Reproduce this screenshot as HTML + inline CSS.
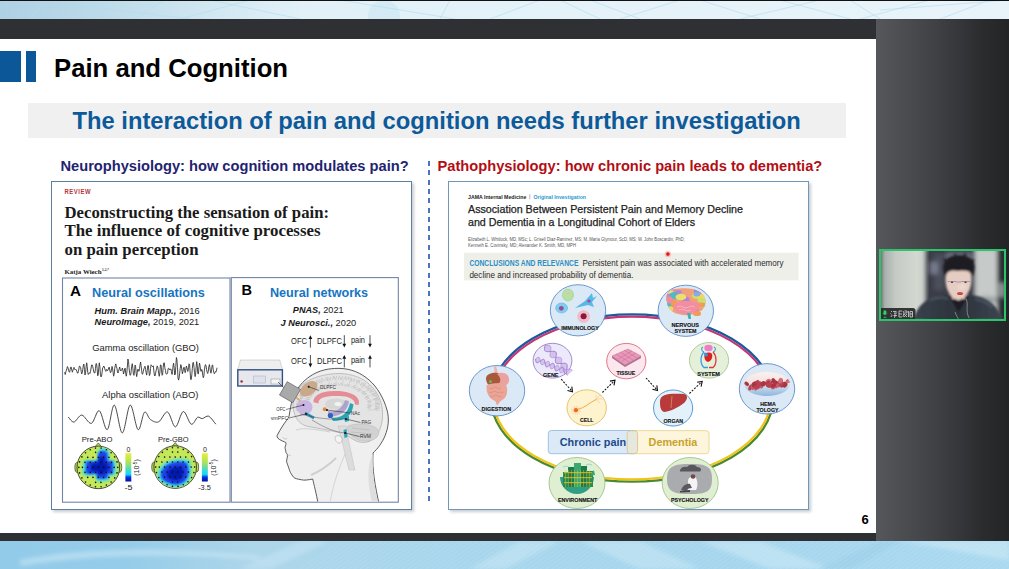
<!DOCTYPE html>
<html><head><meta charset="utf-8">
<style>
*{margin:0;padding:0;box-sizing:border-box}
html,body{width:1009px;height:569px;overflow:hidden;background:#fff;font-family:"Liberation Sans",sans-serif}
.a{position:absolute}
.nw{white-space:nowrap}
svg text{white-space:pre}
</style></head>
<body>
<div class="a" style="left:0;top:0;width:1009px;height:569px;">
<svg class="a" style="left:0;top:0" width="1009" height="19" viewBox="0 0 1009 19">
<defs><linearGradient id="tg" x1="0" x2="1"><stop offset="0" stop-color="#afd1e4"/><stop offset="0.08" stop-color="#b8d8e8"/><stop offset="0.2" stop-color="#cfe6f1"/><stop offset="0.3" stop-color="#e2f1f8"/><stop offset="1" stop-color="#e8f4fa"/></linearGradient></defs>
<rect width="1009" height="19" fill="url(#tg)"/>
<circle cx="384" cy="16" r="16" fill="#d0e8f3" opacity="0.8"/>
<g stroke="#b5dcee" stroke-width="0.7" fill="none" opacity="0.9">
<path d="M30,19 L45,0 M90,19 L100,0 M135,19 L165,0 M100,8 L190,19 M210,0 L300,19 M180,19 L250,0 M340,0 L455,19 M450,0 L440,19 M490,19 L540,0 M560,0 L600,19 M590,0 L640,19 M620,19 L680,0 M700,0 L760,19 M740,19 L820,0 M780,0 L850,19 M850,0 L880,19 M860,19 L930,0 M880,10 L1009,0 M940,19 L990,0"/>
</g>
</svg>
<div class="a" style="left:0;top:0;width:1009px;height:1px;background:#111"></div>
<div class="a" style="left:0;top:19px;width:876px;height:19.5px;background:#2f3034"></div>
<div class="a" style="left:876px;top:19px;width:133px;height:522px;background:linear-gradient(90deg,#56575b 0%,#404145 45%,#2b2c2e 80%,#232426 100%)"></div>
<div class="a" style="left:0;top:38.5px;width:876px;height:494.5px;background:#fff"></div>
<div class="a" style="left:0;top:533px;width:876px;height:8px;background:#2f3034"></div>
<svg class="a" style="left:0;top:541px" width="1009" height="28" viewBox="0 541 1009 28">
<defs><linearGradient id="bg2" x1="0" x2="1"><stop offset="0" stop-color="#92cbe9"/><stop offset="0.12" stop-color="#94cce9"/><stop offset="0.25" stop-color="#aed6ea"/><stop offset="0.45" stop-color="#a8d6ec"/><stop offset="0.75" stop-color="#a6d6ee"/><stop offset="1" stop-color="#aad9ef"/></linearGradient>
<filter id="bb" x="-10%" y="-50%" width="120%" height="200%"><feGaussianBlur stdDeviation="2"/></filter></defs>
<rect x="0" y="541" width="1009" height="28" fill="url(#bg2)"/>
<g filter="url(#bb)" opacity="0.55">
<path d="M20,560 C80,548 160,546 260,556 L260,560 C160,552 80,556 20,566Z" fill="#cfeaf6"/>
<path d="M240,569 L300,541 L330,541 L270,569Z" fill="#c6e6f4"/>
<path d="M470,569 L520,541 L560,541 L505,569Z" fill="#c8e7f5"/>
<path d="M580,541 L640,541 L700,569 L640,569Z" fill="#c9e8f5"/>
<path d="M700,541 L760,541 L830,569 L770,569Z" fill="#cdeaf6"/>
<path d="M900,541 L1009,541 L1009,560Z" fill="#d0ebf6"/>
<path d="M820,569 L880,541 L900,541 L850,569Z" fill="#9acde8"/>
</g>
<g stroke="#ffffff" stroke-width="0.5" opacity="0.18"><path d="M300,569 L340,541"/><path d="M306,569 L346,541"/><path d="M312,569 L352,541"/><path d="M318,569 L358,541"/><path d="M324,569 L364,541"/><path d="M330,569 L370,541"/><path d="M336,569 L376,541"/><path d="M342,569 L382,541"/><path d="M348,569 L388,541"/><path d="M354,569 L394,541"/><path d="M360,569 L400,541"/><path d="M366,569 L406,541"/><path d="M372,569 L412,541"/><path d="M378,569 L418,541"/><path d="M384,569 L424,541"/><path d="M390,569 L430,541"/><path d="M396,569 L436,541"/><path d="M402,569 L442,541"/><path d="M408,569 L448,541"/><path d="M414,569 L454,541"/><path d="M420,569 L460,541"/><path d="M426,569 L466,541"/><path d="M432,569 L472,541"/><path d="M438,569 L478,541"/><path d="M444,569 L484,541"/><path d="M450,569 L490,541"/><path d="M456,569 L496,541"/><path d="M462,569 L502,541"/><path d="M468,569 L508,541"/><path d="M474,569 L514,541"/><path d="M480,569 L520,541"/><path d="M486,569 L526,541"/><path d="M492,569 L532,541"/><path d="M498,569 L538,541"/><path d="M504,569 L544,541"/><path d="M510,569 L550,541"/><path d="M516,569 L556,541"/><path d="M522,569 L562,541"/><path d="M528,569 L568,541"/><path d="M534,569 L574,541"/><path d="M540,569 L580,541"/><path d="M546,569 L586,541"/><path d="M552,569 L592,541"/><path d="M558,569 L598,541"/><path d="M564,569 L604,541"/><path d="M570,569 L610,541"/><path d="M576,569 L616,541"/><path d="M582,569 L622,541"/><path d="M588,569 L628,541"/><path d="M594,569 L634,541"/><path d="M600,569 L640,541"/><path d="M606,569 L646,541"/><path d="M612,569 L652,541"/><path d="M618,569 L658,541"/><path d="M624,569 L664,541"/><path d="M630,569 L670,541"/><path d="M636,569 L676,541"/><path d="M642,569 L682,541"/><path d="M648,569 L688,541"/><path d="M654,569 L694,541"/><path d="M660,569 L700,541"/><path d="M666,569 L706,541"/><path d="M672,569 L712,541"/><path d="M678,569 L718,541"/><path d="M684,569 L724,541"/><path d="M690,569 L730,541"/><path d="M696,569 L736,541"/><path d="M702,569 L742,541"/><path d="M708,569 L748,541"/><path d="M714,569 L754,541"/><path d="M720,569 L760,541"/><path d="M726,569 L766,541"/><path d="M732,569 L772,541"/><path d="M738,569 L778,541"/><path d="M744,569 L784,541"/><path d="M750,569 L790,541"/><path d="M756,569 L796,541"/><path d="M762,569 L802,541"/><path d="M768,569 L808,541"/><path d="M774,569 L814,541"/><path d="M780,569 L820,541"/><path d="M786,569 L826,541"/><path d="M792,569 L832,541"/><path d="M798,569 L838,541"/><path d="M804,569 L844,541"/><path d="M810,569 L850,541"/><path d="M816,569 L856,541"/><path d="M822,569 L862,541"/><path d="M828,569 L868,541"/><path d="M834,569 L874,541"/><path d="M840,569 L880,541"/><path d="M846,569 L886,541"/><path d="M852,569 L892,541"/><path d="M858,569 L898,541"/><path d="M864,569 L904,541"/><path d="M870,569 L910,541"/><path d="M876,569 L916,541"/><path d="M882,569 L922,541"/><path d="M888,569 L928,541"/><path d="M894,569 L934,541"/><path d="M900,569 L940,541"/><path d="M906,569 L946,541"/><path d="M912,569 L952,541"/><path d="M918,569 L958,541"/><path d="M924,569 L964,541"/><path d="M930,569 L970,541"/><path d="M936,569 L976,541"/><path d="M942,569 L982,541"/><path d="M948,569 L988,541"/><path d="M954,569 L994,541"/><path d="M960,569 L1000,541"/><path d="M966,569 L1006,541"/><path d="M972,569 L1012,541"/><path d="M978,569 L1018,541"/><path d="M984,569 L1024,541"/><path d="M990,569 L1030,541"/><path d="M996,569 L1036,541"/><path d="M1002,569 L1042,541"/><path d="M1008,569 L1048,541"/></g>
</svg>
<div class="a" style="left:0;top:51px;width:20.7px;height:30.7px;background:#0b5797"></div>
<div class="a" style="left:26.2px;top:51px;width:9.8px;height:30.7px;background:#0b5797"></div>
<div class="a nw" style="left:54px;top:51px;font-size:25.7px;font-weight:bold;color:#000;line-height:34px">Pain and Cognition</div>
<div class="a" style="left:27.6px;top:103px;width:818.5px;height:35px;background:#f0f0f0"></div>
<div class="a nw" style="left:72.5px;top:106.4px;font-size:23.75px;font-weight:bold;color:#0d5a9a;line-height:30px">The interaction of pain and cognition needs further investigation</div>
<div class="a nw" style="left:60.5px;top:157px;font-size:14.65px;font-weight:bold;color:#1f2471;line-height:18px">Neurophysiology: how cognition modulates pain?</div>
<div class="a nw" style="left:437.5px;top:157px;font-size:14.68px;font-weight:bold;color:#b30d14;line-height:18px">Pathophysiology: how chronic pain leads to dementia?</div>
<div class="a" style="left:428px;top:161px;width:2px;height:341px;background:repeating-linear-gradient(180deg,#4a76c0 0,#4a76c0 5px,transparent 5px,transparent 9.3px)"></div>
<div class="a nw" style="left:861.5px;top:513px;font-size:13px;font-weight:bold;color:#000;line-height:14px">6</div>
<svg class="a" style="left:0;top:0" width="1009" height="569" viewBox="0 0 1009 569">
<defs>
<filter id="blur2" x="-5%" y="-5%" width="110%" height="110%"><feGaussianBlur stdDeviation="1.5"/></filter>
<filter id="blur1"><feGaussianBlur stdDeviation="0.8"/></filter>
<filter id="blur3" x="-20%" y="-20%" width="140%" height="140%"><feGaussianBlur stdDeviation="2.5"/></filter>
<linearGradient id="cbar" x1="0" y1="0" x2="0" y2="1">
<stop offset="0" stop-color="#e8f03a"/><stop offset="0.35" stop-color="#a8e060"/><stop offset="0.6" stop-color="#40d8d0"/><stop offset="0.75" stop-color="#10d8f8"/><stop offset="0.85" stop-color="#0830e8"/><stop offset="1" stop-color="#0010a0"/>
</linearGradient>
</defs>
<rect x="53" y="183" width="361" height="329" fill="#c9ccd2" filter="url(#blur2)"/>
<rect x="51.5" y="181.5" width="360" height="328" fill="#fff" stroke="#5b7f9c" stroke-width="1"/>
<text x="64.5" y="193.8" font-family="Liberation Sans" font-size="6.4" font-weight="bold" font-style="normal" fill="#b5353a" text-anchor="start" textLength="26.5" lengthAdjust="spacingAndGlyphs" letter-spacing="0.6">REVIEW</text>
<text x="64.5" y="217.8" font-family="Liberation Serif" font-size="17.5" font-weight="bold" font-style="normal" fill="#1a1a1a" text-anchor="start" textLength="264.5" lengthAdjust="spacingAndGlyphs" >Deconstructing the sensation of pain:</text>
<text x="64.5" y="236.2" font-family="Liberation Serif" font-size="17.5" font-weight="bold" font-style="normal" fill="#1a1a1a" text-anchor="start" textLength="256" lengthAdjust="spacingAndGlyphs" >The influence of cognitive processes</text>
<text x="64.5" y="254.6" font-family="Liberation Serif" font-size="17.5" font-weight="bold" font-style="normal" fill="#1a1a1a" text-anchor="start" textLength="134" lengthAdjust="spacingAndGlyphs" >on pain perception</text>
<text x="64.5" y="274.2" font-family="Liberation Serif" font-size="6.2" font-weight="bold" font-style="normal" fill="#222" text-anchor="start" textLength="37" lengthAdjust="spacingAndGlyphs" >Katja Wiech</text>
<text x="102" y="271" font-family="Liberation Serif" font-size="3.5" font-weight="bold" font-style="normal" fill="#333" text-anchor="start" >1,2,*</text>
<rect x="62.5" y="278" width="167.5" height="224.2" fill="#fff" stroke="#7584a6" stroke-width="1.1"/>
<rect x="231.3" y="277.6" width="167" height="224.6" fill="#fff" stroke="#7584a6" stroke-width="1.1"/>
<text x="70" y="296" font-family="Liberation Sans" font-size="15" font-weight="bold" font-style="normal" fill="#000" text-anchor="start" textLength="11" lengthAdjust="spacingAndGlyphs" >A</text>
<text x="92" y="296.7" font-family="Liberation Sans" font-size="12.6" font-weight="bold" font-style="normal" fill="#1575c2" text-anchor="start" textLength="112.8" lengthAdjust="spacingAndGlyphs" >Neural oscillations</text>
<text x="94.6" y="313.9" font-family="Liberation Sans" font-size="8.8" fill="#1a1a1a" textLength="105" lengthAdjust="spacingAndGlyphs"><tspan font-weight="bold" font-style="italic">Hum. Brain Mapp.,</tspan> 2016</text>
<text x="94.6" y="325.4" font-family="Liberation Sans" font-size="8.8" fill="#1a1a1a" textLength="104.6" lengthAdjust="spacingAndGlyphs"><tspan font-weight="bold" font-style="italic">NeuroImage,</tspan> 2019, 2021</text>
<text x="92.2" y="350.6" font-family="Liberation Sans" font-size="9.2" font-weight="normal" font-style="normal" fill="#222" text-anchor="start" textLength="106.8" lengthAdjust="spacingAndGlyphs" >Gamma oscillation (GBO)</text>
<text x="102.1" y="397.7" font-family="Liberation Sans" font-size="9.2" font-weight="normal" font-style="normal" fill="#222" text-anchor="start" textLength="96.4" lengthAdjust="spacingAndGlyphs" >Alpha oscillation (ABO)</text>
<path d="M64.7,372.2 L65.2,374.5 L65.8,372.1 L66.3,370.5 L66.9,368.5 L67.4,366.6 L68.0,367.7 L68.5,370.1 L69.1,371.7 L69.6,372.3 L70.2,369.3 L70.7,367.2 L71.3,367.2 L71.8,370.1 L72.4,372.2 L72.9,370.4 L73.5,368.5 L74.0,367.3 L74.6,369.4 L75.1,369.5 L75.7,369.5 L76.2,369.6 L76.8,371.1 L77.3,373.0 L77.9,373.2 L78.4,371.5 L79.0,368.0 L79.5,365.9 L80.1,366.7 L80.6,367.5 L81.2,371.4 L81.7,373.9 L82.3,372.5 L82.8,369.2 L83.4,364.9 L83.9,364.0 L84.5,369.6 L85.0,375.0 L85.6,372.4 L86.1,367.1 L86.7,362.8 L87.2,366.4 L87.8,372.6 L88.3,374.5 L88.9,373.6 L89.4,372.7 L90.0,373.4 L90.5,371.5 L91.1,368.0 L91.6,365.0 L92.2,364.9 L92.7,366.4 L93.3,369.3 L93.8,372.1 L94.4,372.9 L94.9,373.1 L95.5,368.3 L96.0,363.6 L96.6,363.8 L97.1,368.6 L97.7,375.8 L98.2,375.0 L98.8,367.3 L99.3,362.8 L99.9,366.9 L100.4,374.2 L101.0,377.0 L101.5,376.3 L102.1,372.3 L102.6,368.0 L103.2,367.3 L103.7,366.0 L104.3,366.9 L104.8,368.9 L105.4,370.5 L105.9,371.4 L106.5,369.6 L107.0,369.6 L107.6,370.7 L108.1,369.9 L108.7,368.0 L109.2,367.1 L109.8,370.0 L110.3,372.6 L110.9,372.3 L111.4,370.3 L112.0,366.4 L112.5,367.9 L113.1,372.5 L113.6,376.2 L114.2,374.1 L114.7,368.5 L115.3,365.3 L115.8,363.9 L116.4,366.8 L116.9,368.3 L117.5,371.9 L118.0,373.0 L118.6,371.3 L119.1,369.1 L119.7,367.0 L120.2,369.3 L120.8,371.0 L121.3,370.5 L121.9,369.4 L122.4,368.0 L123.0,370.6 L123.5,374.0 L124.1,371.9 L124.6,368.9 L125.2,368.1 L125.7,373.7 L126.3,376.2 L126.8,372.7 L127.4,366.0 L127.9,359.0 L128.5,361.3 L129.0,367.4 L129.6,372.9 L130.1,375.3 L130.7,374.9 L131.2,370.8 L131.8,365.4 L132.3,363.7 L132.9,368.6 L133.4,374.3 L134.0,375.4 L134.5,370.8 L135.1,365.0 L135.6,366.5 L136.2,373.4 L136.7,376.6 L137.3,372.3 L137.8,369.1 L138.4,369.7 L138.9,371.3 L139.5,368.7 L140.0,365.1 L140.6,362.0 L141.1,365.8 L141.7,370.9 L142.2,374.3 L142.8,373.8 L143.3,371.4 L143.9,368.9 L144.5,367.4 L145.0,366.2 L145.6,369.4 L146.1,372.5 L146.7,375.1 L147.2,370.7 L147.8,365.6 L148.3,365.5 L148.9,370.9 L149.4,375.6 L150.0,374.2 L150.5,368.4 L151.1,364.8 L151.6,365.5 L152.2,366.0 L152.7,366.7 L153.3,365.8 L153.8,370.7 L154.4,375.0 L154.9,376.0 L155.5,373.9 L156.0,370.8 L156.6,368.9 L157.1,365.9 L157.7,366.8 L158.2,369.6 L158.8,374.0 L159.3,376.3 L159.9,372.1 L160.4,365.0 L161.0,364.9 L161.5,369.8 L162.1,375.3 L162.6,374.6 L163.2,367.3 L163.7,363.1 L164.3,362.8 L164.8,367.5 L165.4,370.3 L165.9,373.4 L166.5,374.2 L167.0,374.0 L167.6,372.8 L168.1,368.7 L168.7,368.2 L169.2,369.0 L169.8,370.0 L170.3,369.3 L170.9,368.9 L171.4,371.4 L172.0,374.4 L172.5,371.6 L173.1,365.6 L173.6,363.2 L174.2,367.9 L174.7,375.0 L175.3,374.1 L175.8,366.5 L176.4,357.5 L176.9,359.6 L177.5,367.8 L178.0,378.1 L178.6,380.1 L179.1,377.9 L179.7,373.2 L180.2,368.4 L180.8,364.6 L181.3,366.2 L181.9,370.1 L182.4,373.8 L183.0,371.4 L183.5,368.0 L184.1,367.2 L184.6,369.9 L185.2,372.7 L185.7,370.3 L186.3,366.0 L186.8,367.1 L187.4,370.2 L187.9,371.5 L188.5,367.7 L189.0,363.8 L189.6,364.5 L190.1,371.9 L190.7,379.4 L191.2,379.6 L191.8,374.7 L192.3,368.7 L192.9,362.8 L193.4,362.3 L194.0,367.3 L194.5,372.5 L195.1,376.6 L195.6,374.3 L196.2,366.1 L196.7,361.6 L197.3,366.1 L197.8,373.6 L198.4,373.9 L198.9,367.8 L199.5,363.1 L200.0,365.3 L200.6,370.4 L201.1,371.4 L201.7,369.4 L202.2,370.5 L202.8,375.6 L203.3,377.7 L203.9,375.9 L204.4,369.9 L205.0,365.8 L205.5,364.6 L206.1,366.1 L206.6,369.8 L207.2,372.4 L207.7,373.5 L208.3,371.3 L208.8,366.8 L209.4,364.6 L209.9,367.3 L210.5,372.1 L211.0,373.2 L211.6,369.8 L212.1,365.3 L212.7,365.0 L213.2,369.5 L213.8,372.4 L214.3,373.8 L214.9,372.7 L215.4,371.6 L216.0,372.2 L216.5,370.1 L217.1,367.7" fill="none" stroke="#2a2a2a" stroke-width="0.85" stroke-linejoin="round"/>
<path d="M68.3,417.0 C69.2,417.9 71.7,422.4 73.9,422.1 C76.2,421.8 78.9,414.9 81.8,415.1 C84.7,415.3 88.4,424.1 91.3,423.4 C94.2,422.7 96.6,409.6 99.3,410.7 C102.0,411.8 104.7,430.6 107.2,429.7 C109.7,428.8 111.8,404.6 114.3,405.1 C116.8,405.6 119.7,432.9 122.3,432.9 C124.9,432.9 127.6,405.6 130.2,405.1 C132.8,404.6 135.7,428.5 138.1,429.7 C140.5,430.9 142.4,414.0 144.5,412.3 C146.6,410.6 148.0,417.9 150.4,419.5 C152.8,421.1 155.8,423.1 158.7,421.8 C161.5,420.6 164.7,411.1 167.5,412.0 C170.3,412.9 172.8,427.0 175.4,426.9 C178.0,426.8 180.7,411.9 183.3,411.5 C185.9,411.1 188.8,423.2 191.2,424.2 C193.6,425.2 195.8,418.2 197.6,417.3 C199.4,416.4 200.5,418.8 202.3,418.6 C204.2,418.4 206.4,415.3 208.7,416.2 C210.9,417.1 214.6,422.9 215.8,424.2" fill="none" stroke="#333" stroke-width="0.9"/>
<text x="81.7" y="441.5" font-family="Liberation Sans" font-size="7.3" font-weight="normal" font-style="normal" fill="#222" text-anchor="start" textLength="30.8" lengthAdjust="spacingAndGlyphs" >Pre-ABO</text>
<ellipse cx="76.8" cy="467.4" rx="2" ry="5" fill="#b5dc55" stroke="#222" stroke-width="0.6"/>
<ellipse cx="119.8" cy="467.4" rx="2" ry="5" fill="#b5dc55" stroke="#222" stroke-width="0.6"/>
<path d="M95.3,446.4 L98.3,442.9 L101.3,446.4" fill="#b5dc55" stroke="#222" stroke-width="0.6"/>
<circle cx="98.3" cy="467.4" r="21.3" fill="#c4e858" stroke="#222" stroke-width="0.8"/>
<g clip-path="url(#hc98)">
<path d="M83.0,459.7 C85.2,459.6 94.2,460.8 96.7,459.2 C99.1,457.5 96.7,452.1 97.8,450.0 C98.9,448.0 101.6,446.8 103.5,446.6 C105.4,446.4 108.0,446.8 109.2,448.9 C110.3,451.0 109.2,457.3 110.3,459.2 C111.5,461.1 114.9,458.8 116.0,460.3 C117.2,461.8 117.2,465.7 117.2,468.3 C117.2,470.8 117.2,474.4 116.0,475.7 C114.9,477.0 111.5,475.3 110.3,476.3 C109.2,477.2 111.5,480.4 109.2,481.4 C106.9,482.3 98.9,482.8 96.7,482.0 C94.4,481.1 97.8,477.3 95.5,476.3 C93.2,475.2 85.2,477.2 83.0,475.7 C80.7,474.2 81.8,469.8 81.8,467.1 C81.8,464.5 82.8,461.0 83.0,459.7Z" fill="#86e0a0" filter="url(#blur1)"/>
<path d="M85.0,460.5 C87.0,460.4 94.8,461.4 97.0,460.0 C99.2,458.6 97.0,453.8 98.0,452.0 C99.0,450.2 101.3,449.2 103.0,449.0 C104.7,448.8 107.0,449.2 108.0,451.0 C109.0,452.8 108.0,458.3 109.0,460.0 C110.0,461.7 113.0,459.7 114.0,461.0 C115.0,462.3 115.0,465.8 115.0,468.0 C115.0,470.2 115.0,473.3 114.0,474.5 C113.0,475.7 110.0,474.2 109.0,475.0 C108.0,475.8 110.0,478.7 108.0,479.5 C106.0,480.3 99.0,480.8 97.0,480.0 C95.0,479.2 98.0,475.9 96.0,475.0 C94.0,474.1 87.0,475.8 85.0,474.5 C83.0,473.2 84.0,469.3 84.0,467.0 C84.0,464.7 84.8,461.6 85.0,460.5Z" fill="#38d8f0" filter="url(#blur1)"/>
<path d="M86.7,461.2 C88.5,461.1 95.4,462.0 97.3,460.7 C99.2,459.5 97.3,455.3 98.2,453.7 C99.1,452.1 101.1,451.2 102.6,451.0 C104.0,450.9 106.1,451.2 107.0,452.8 C107.9,454.4 107.0,459.3 107.9,460.7 C108.7,462.2 111.4,460.4 112.3,461.6 C113.1,462.8 113.1,465.8 113.1,467.8 C113.1,469.7 113.1,472.5 112.3,473.5 C111.4,474.5 108.7,473.2 107.9,473.9 C107.0,474.7 108.7,477.1 107.0,477.9 C105.2,478.6 99.1,479.0 97.3,478.3 C95.5,477.7 98.2,474.7 96.4,473.9 C94.7,473.1 88.5,474.7 86.7,473.5 C85.0,472.3 85.9,468.9 85.9,466.9 C85.9,464.8 86.6,462.1 86.7,461.2Z" fill="#1a40e8" filter="url(#blur1)"/>
<path d="M91.5,463.4 C92.6,463.4 96.9,463.9 98.1,463.1 C99.3,462.4 98.1,459.8 98.7,458.8 C99.2,457.7 100.5,457.2 101.4,457.1 C102.3,457.0 103.6,457.2 104.2,458.2 C104.7,459.2 104.2,462.2 104.7,463.1 C105.3,464.1 106.9,463.0 107.5,463.7 C108.0,464.4 108.0,466.3 108.0,467.6 C108.0,468.8 108.0,470.5 107.5,471.1 C106.9,471.8 105.3,470.9 104.7,471.4 C104.2,471.9 105.3,473.4 104.2,473.9 C103.1,474.3 99.2,474.6 98.1,474.1 C97.0,473.7 98.7,471.9 97.6,471.4 C96.5,470.9 92.6,471.9 91.5,471.1 C90.4,470.4 91.0,468.3 91.0,467.0 C91.0,465.7 91.4,464.0 91.5,463.4Z" fill="#0614a8" opacity="0.9" filter="url(#blur1)"/>
</g>
<clipPath id="hc98"><circle cx="98.3" cy="467.4" r="21"/></clipPath>
<circle cx="95.6" cy="452.4" r="0.8" fill="#111"/>
<circle cx="100.9" cy="452.4" r="0.8" fill="#111"/>
<circle cx="87.7" cy="457.4" r="0.8" fill="#111"/>
<circle cx="93.0" cy="457.4" r="0.8" fill="#111"/>
<circle cx="98.3" cy="457.4" r="0.8" fill="#111"/>
<circle cx="103.6" cy="457.4" r="0.8" fill="#111"/>
<circle cx="108.9" cy="457.4" r="0.8" fill="#111"/>
<circle cx="85.0" cy="462.4" r="0.8" fill="#111"/>
<circle cx="90.3" cy="462.4" r="0.8" fill="#111"/>
<circle cx="95.6" cy="462.4" r="0.8" fill="#111"/>
<circle cx="100.9" cy="462.4" r="0.8" fill="#111"/>
<circle cx="106.2" cy="462.4" r="0.8" fill="#111"/>
<circle cx="111.5" cy="462.4" r="0.8" fill="#111"/>
<circle cx="82.4" cy="467.4" r="0.8" fill="#111"/>
<circle cx="87.7" cy="467.4" r="0.8" fill="#111"/>
<circle cx="93.0" cy="467.4" r="0.8" fill="#111"/>
<circle cx="98.3" cy="467.4" r="0.8" fill="#111"/>
<circle cx="103.6" cy="467.4" r="0.8" fill="#111"/>
<circle cx="108.9" cy="467.4" r="0.8" fill="#111"/>
<circle cx="114.2" cy="467.4" r="0.8" fill="#111"/>
<circle cx="85.0" cy="472.4" r="0.8" fill="#111"/>
<circle cx="90.3" cy="472.4" r="0.8" fill="#111"/>
<circle cx="95.6" cy="472.4" r="0.8" fill="#111"/>
<circle cx="100.9" cy="472.4" r="0.8" fill="#111"/>
<circle cx="106.2" cy="472.4" r="0.8" fill="#111"/>
<circle cx="111.5" cy="472.4" r="0.8" fill="#111"/>
<circle cx="87.7" cy="477.4" r="0.8" fill="#111"/>
<circle cx="93.0" cy="477.4" r="0.8" fill="#111"/>
<circle cx="98.3" cy="477.4" r="0.8" fill="#111"/>
<circle cx="103.6" cy="477.4" r="0.8" fill="#111"/>
<circle cx="108.9" cy="477.4" r="0.8" fill="#111"/>
<circle cx="95.6" cy="482.4" r="0.8" fill="#111"/>
<circle cx="100.9" cy="482.4" r="0.8" fill="#111"/>
<circle cx="117.8" cy="467.4" r="0.8" fill="#111"/>
<circle cx="117.0" cy="472.9" r="0.8" fill="#111"/>
<circle cx="114.7" cy="477.9" r="0.8" fill="#111"/>
<circle cx="111.1" cy="482.1" r="0.8" fill="#111"/>
<circle cx="106.4" cy="485.1" r="0.8" fill="#111"/>
<circle cx="101.1" cy="486.7" r="0.8" fill="#111"/>
<circle cx="95.5" cy="486.7" r="0.8" fill="#111"/>
<circle cx="90.2" cy="485.1" r="0.8" fill="#111"/>
<circle cx="85.5" cy="482.1" r="0.8" fill="#111"/>
<circle cx="81.9" cy="477.9" r="0.8" fill="#111"/>
<circle cx="79.6" cy="472.9" r="0.8" fill="#111"/>
<circle cx="78.8" cy="467.4" r="0.8" fill="#111"/>
<circle cx="79.6" cy="461.9" r="0.8" fill="#111"/>
<circle cx="81.9" cy="456.9" r="0.8" fill="#111"/>
<circle cx="85.5" cy="452.7" r="0.8" fill="#111"/>
<circle cx="90.2" cy="449.7" r="0.8" fill="#111"/>
<circle cx="95.5" cy="448.1" r="0.8" fill="#111"/>
<circle cx="101.1" cy="448.1" r="0.8" fill="#111"/>
<circle cx="106.4" cy="449.7" r="0.8" fill="#111"/>
<circle cx="111.1" cy="452.7" r="0.8" fill="#111"/>
<circle cx="114.7" cy="456.9" r="0.8" fill="#111"/>
<circle cx="117.0" cy="461.9" r="0.8" fill="#111"/>
<rect x="125.4" y="453.2" width="5.9" height="28.3" fill="url(#cbar)"/>
<text x="128.4" y="451.5" font-family="Liberation Sans" font-size="7" font-weight="normal" font-style="normal" fill="#222" text-anchor="middle" >0</text>
<text x="124.5" y="489.5" font-family="Liberation Sans" font-size="7" font-weight="normal" font-style="normal" fill="#222" text-anchor="start" textLength="8" lengthAdjust="spacingAndGlyphs" >-5</text>
<text transform="translate(139.4,467.5) rotate(-90)" font-family="Liberation Sans" font-size="7" fill="#222" text-anchor="middle">(10<tspan font-size="4.5" dy="-2.5">-5</tspan><tspan dy="2.5">)</tspan></text>
<text x="157.9" y="441.5" font-family="Liberation Sans" font-size="7.3" font-weight="normal" font-style="normal" fill="#222" text-anchor="start" textLength="30.8" lengthAdjust="spacingAndGlyphs" >Pre-GBO</text>
<ellipse cx="153.7" cy="467.1" rx="2" ry="5" fill="#b5dc55" stroke="#222" stroke-width="0.6"/>
<ellipse cx="196.7" cy="467.1" rx="2" ry="5" fill="#b5dc55" stroke="#222" stroke-width="0.6"/>
<path d="M172.2,446.1 L175.2,442.6 L178.2,446.1" fill="#b5dc55" stroke="#222" stroke-width="0.6"/>
<circle cx="175.2" cy="467.1" r="21.3" fill="#c4e858" stroke="#222" stroke-width="0.8"/>
<g clip-path="url(#hc175)">
<path d="M163.8,462.0 C165.8,461.4 171.9,458.9 176.0,458.4 C180.1,457.9 185.6,458.0 188.2,459.0 C190.8,460.0 191.2,461.5 191.9,464.5 C192.5,467.4 192.9,473.2 191.9,476.7 C190.8,480.1 188.6,483.3 185.8,485.2 C182.9,487.1 178.4,488.2 174.8,488.2 C171.1,488.2 166.9,486.7 163.8,485.2 C160.8,483.7 157.5,481.7 156.5,479.1 C155.5,476.5 156.5,472.2 157.7,469.3 C158.9,466.5 162.8,463.2 163.8,462.0Z" fill="#86e0a0" filter="url(#blur1)"/>
<path d="M165.4,463.5 C167.2,462.9 172.5,460.7 176.0,460.3 C179.5,459.8 184.3,459.9 186.6,460.8 C188.9,461.7 189.2,463.0 189.8,465.6 C190.3,468.1 190.7,473.2 189.8,476.2 C188.9,479.2 187.0,481.9 184.5,483.6 C182.0,485.3 178.1,486.2 174.9,486.2 C171.8,486.2 168.1,484.9 165.4,483.6 C162.8,482.3 159.9,480.6 159.0,478.3 C158.2,476.0 159.0,472.3 160.1,469.8 C161.2,467.3 164.5,464.5 165.4,463.5Z" fill="#38d8f0" filter="url(#blur1)"/>
<path d="M166.8,464.7 C168.3,464.3 172.9,462.3 176.0,462.0 C179.1,461.6 183.2,461.7 185.2,462.4 C187.2,463.2 187.5,464.3 188.0,466.6 C188.4,468.8 188.7,473.2 188.0,475.8 C187.2,478.4 185.5,480.7 183.4,482.2 C181.2,483.7 177.8,484.5 175.1,484.5 C172.3,484.5 169.1,483.3 166.8,482.2 C164.5,481.1 162.0,479.6 161.3,477.6 C160.5,475.6 161.3,472.4 162.2,470.2 C163.1,468.1 166.0,465.6 166.8,464.7Z" fill="#1a40e8" filter="url(#blur1)"/>
<path d="M170.5,468.5 C171.4,468.2 174.2,467.1 176.0,466.9 C177.8,466.6 180.3,466.7 181.5,467.1 C182.7,467.6 182.9,468.3 183.2,469.6 C183.4,470.9 183.6,473.5 183.2,475.1 C182.7,476.7 181.7,478.1 180.4,478.9 C179.1,479.8 177.1,480.3 175.4,480.3 C173.8,480.3 171.9,479.6 170.5,478.9 C169.1,478.3 167.7,477.4 167.2,476.2 C166.7,475.0 167.2,473.1 167.8,471.8 C168.3,470.5 170.0,469.1 170.5,468.5Z" fill="#0614a8" opacity="0.9" filter="url(#blur1)"/>
</g>
<clipPath id="hc175"><circle cx="175.2" cy="467.1" r="21"/></clipPath>
<circle cx="172.5" cy="452.1" r="0.8" fill="#111"/>
<circle cx="177.8" cy="452.1" r="0.8" fill="#111"/>
<circle cx="164.6" cy="457.1" r="0.8" fill="#111"/>
<circle cx="169.9" cy="457.1" r="0.8" fill="#111"/>
<circle cx="175.2" cy="457.1" r="0.8" fill="#111"/>
<circle cx="180.5" cy="457.1" r="0.8" fill="#111"/>
<circle cx="185.8" cy="457.1" r="0.8" fill="#111"/>
<circle cx="161.9" cy="462.1" r="0.8" fill="#111"/>
<circle cx="167.2" cy="462.1" r="0.8" fill="#111"/>
<circle cx="172.5" cy="462.1" r="0.8" fill="#111"/>
<circle cx="177.8" cy="462.1" r="0.8" fill="#111"/>
<circle cx="183.1" cy="462.1" r="0.8" fill="#111"/>
<circle cx="188.4" cy="462.1" r="0.8" fill="#111"/>
<circle cx="159.3" cy="467.1" r="0.8" fill="#111"/>
<circle cx="164.6" cy="467.1" r="0.8" fill="#111"/>
<circle cx="169.9" cy="467.1" r="0.8" fill="#111"/>
<circle cx="175.2" cy="467.1" r="0.8" fill="#111"/>
<circle cx="180.5" cy="467.1" r="0.8" fill="#111"/>
<circle cx="185.8" cy="467.1" r="0.8" fill="#111"/>
<circle cx="191.1" cy="467.1" r="0.8" fill="#111"/>
<circle cx="161.9" cy="472.1" r="0.8" fill="#111"/>
<circle cx="167.2" cy="472.1" r="0.8" fill="#111"/>
<circle cx="172.5" cy="472.1" r="0.8" fill="#111"/>
<circle cx="177.8" cy="472.1" r="0.8" fill="#111"/>
<circle cx="183.1" cy="472.1" r="0.8" fill="#111"/>
<circle cx="188.4" cy="472.1" r="0.8" fill="#111"/>
<circle cx="164.6" cy="477.1" r="0.8" fill="#111"/>
<circle cx="169.9" cy="477.1" r="0.8" fill="#111"/>
<circle cx="175.2" cy="477.1" r="0.8" fill="#111"/>
<circle cx="180.5" cy="477.1" r="0.8" fill="#111"/>
<circle cx="185.8" cy="477.1" r="0.8" fill="#111"/>
<circle cx="172.5" cy="482.1" r="0.8" fill="#111"/>
<circle cx="177.8" cy="482.1" r="0.8" fill="#111"/>
<circle cx="194.7" cy="467.1" r="0.8" fill="#111"/>
<circle cx="193.9" cy="472.6" r="0.8" fill="#111"/>
<circle cx="191.6" cy="477.6" r="0.8" fill="#111"/>
<circle cx="188.0" cy="481.8" r="0.8" fill="#111"/>
<circle cx="183.3" cy="484.8" r="0.8" fill="#111"/>
<circle cx="178.0" cy="486.4" r="0.8" fill="#111"/>
<circle cx="172.4" cy="486.4" r="0.8" fill="#111"/>
<circle cx="167.1" cy="484.8" r="0.8" fill="#111"/>
<circle cx="162.4" cy="481.8" r="0.8" fill="#111"/>
<circle cx="158.8" cy="477.6" r="0.8" fill="#111"/>
<circle cx="156.5" cy="472.6" r="0.8" fill="#111"/>
<circle cx="155.7" cy="467.1" r="0.8" fill="#111"/>
<circle cx="156.5" cy="461.6" r="0.8" fill="#111"/>
<circle cx="158.8" cy="456.6" r="0.8" fill="#111"/>
<circle cx="162.4" cy="452.4" r="0.8" fill="#111"/>
<circle cx="167.1" cy="449.4" r="0.8" fill="#111"/>
<circle cx="172.4" cy="447.8" r="0.8" fill="#111"/>
<circle cx="178.0" cy="447.8" r="0.8" fill="#111"/>
<circle cx="183.3" cy="449.4" r="0.8" fill="#111"/>
<circle cx="188.0" cy="452.4" r="0.8" fill="#111"/>
<circle cx="191.6" cy="456.6" r="0.8" fill="#111"/>
<circle cx="193.9" cy="461.6" r="0.8" fill="#111"/>
<rect x="201.9" y="453.2" width="5.9" height="28.3" fill="url(#cbar)"/>
<text x="204.9" y="451.5" font-family="Liberation Sans" font-size="7" font-weight="normal" font-style="normal" fill="#222" text-anchor="middle" >0</text>
<text x="198.2" y="489.5" font-family="Liberation Sans" font-size="7" font-weight="normal" font-style="normal" fill="#222" text-anchor="start" textLength="12.6" lengthAdjust="spacingAndGlyphs" >-3.5</text>
<text transform="translate(215.9,467.5) rotate(-90)" font-family="Liberation Sans" font-size="7" fill="#222" text-anchor="middle">(10<tspan font-size="4.5" dy="-2.5">-5</tspan><tspan dy="2.5">)</tspan></text>
<text x="241.6" y="295.4" font-family="Liberation Sans" font-size="15" font-weight="bold" font-style="normal" fill="#000" text-anchor="start" textLength="10.5" lengthAdjust="spacingAndGlyphs" >B</text>
<text x="270" y="296.7" font-family="Liberation Sans" font-size="12.6" font-weight="bold" font-style="normal" fill="#1575c2" text-anchor="start" textLength="98.1" lengthAdjust="spacingAndGlyphs" >Neural networks</text>
<text x="292.8" y="313.3" font-family="Liberation Sans" font-size="8.8" fill="#1a1a1a" textLength="50.8" lengthAdjust="spacingAndGlyphs"><tspan font-weight="bold" font-style="italic">PNAS,</tspan> 2021</text>
<text x="280.5" y="325.6" font-family="Liberation Sans" font-size="8.8" fill="#1a1a1a" textLength="75.7" lengthAdjust="spacingAndGlyphs"><tspan font-weight="bold" font-style="italic">J Neurosci.,</tspan> 2020</text>
<text x="291.1" y="343.7" font-family="Liberation Sans" font-size="8.2" font-weight="normal" font-style="normal" fill="#222" text-anchor="start" textLength="16" lengthAdjust="spacingAndGlyphs" >OFC</text>
<text x="317" y="343.7" font-family="Liberation Sans" font-size="8.2" font-weight="normal" font-style="normal" fill="#222" text-anchor="start" textLength="25" lengthAdjust="spacingAndGlyphs" >DLPFC</text>
<text x="350.9" y="342.9" font-family="Liberation Sans" font-size="8.2" font-weight="normal" font-style="normal" fill="#222" text-anchor="start" textLength="14.1" lengthAdjust="spacingAndGlyphs" >pain</text>
<line x1="310.4" y1="347.59999999999997" x2="310.4" y2="338.2" stroke="#222" stroke-width="0.8"/><path d="M308.5,339.0 L310.4,335.2 L312.29999999999995,339.0Z" fill="#111"/>
<line x1="344.3" y1="335.2" x2="344.3" y2="344.59999999999997" stroke="#222" stroke-width="0.8"/><path d="M342.40000000000003,343.79999999999995 L344.3,347.59999999999997 L346.2,343.79999999999995Z" fill="#111"/>
<line x1="370" y1="335.2" x2="370" y2="344.59999999999997" stroke="#222" stroke-width="0.8"/><path d="M368.1,343.79999999999995 L370,347.59999999999997 L371.9,343.79999999999995Z" fill="#111"/>
<text x="291.1" y="363.9" font-family="Liberation Sans" font-size="8.2" font-weight="normal" font-style="normal" fill="#222" text-anchor="start" textLength="16" lengthAdjust="spacingAndGlyphs" >OFC</text>
<text x="317" y="363.9" font-family="Liberation Sans" font-size="8.2" font-weight="normal" font-style="normal" fill="#222" text-anchor="start" textLength="25" lengthAdjust="spacingAndGlyphs" >DLPFC</text>
<text x="350.9" y="363.09999999999997" font-family="Liberation Sans" font-size="8.2" font-weight="normal" font-style="normal" fill="#222" text-anchor="start" textLength="14.1" lengthAdjust="spacingAndGlyphs" >pain</text>
<line x1="310.4" y1="355.0" x2="310.4" y2="364.4" stroke="#222" stroke-width="0.8"/><path d="M308.5,363.59999999999997 L310.4,367.4 L312.29999999999995,363.59999999999997Z" fill="#111"/>
<line x1="344.3" y1="367.4" x2="344.3" y2="358.0" stroke="#222" stroke-width="0.8"/><path d="M342.40000000000003,358.8 L344.3,355.0 L346.2,358.8Z" fill="#111"/>
<line x1="370" y1="367.4" x2="370" y2="358.0" stroke="#222" stroke-width="0.8"/><path d="M368.1,358.8 L370,355.0 L371.9,358.8Z" fill="#111"/>
<path d="M240.4,360 L279.8,360 L282.6,369.8 L237.6,369.8Z" fill="#eeeeef" stroke="#b0b0b8" stroke-width="0.5"/>
<rect x="237.8" y="369.8" width="44.6" height="16.2" fill="#e6e8ee" stroke="#34507e" stroke-width="1.4"/>
<circle cx="241.6" cy="381.4" r="1.2" fill="#a02020"/>
<rect x="253.5" y="376" width="12" height="7" fill="#dfe2ea" stroke="#9aa0b5" stroke-width="0.4"/>
<rect x="271" y="379" width="9" height="5" fill="#f4f4f6" stroke="#777" stroke-width="0.4"/>
<path d="M278,382 L284,388" stroke="#333" stroke-width="0.7"/>
<clipPath id="pbclip"><rect x="232" y="278" width="165.8" height="223.6"/></clipPath>
<g clip-path="url(#pbclip)">
<path d="M298,388 C310,372 325,368 340,368.4 C362,369 380,385 387,410 C392,428 382,445 373,453 C372,470 375,485 379.5,506 L318.6,506 C316,492 314,485 312.7,479 C308,480 304,480.5 301.6,479.8 C297,479 295,478.5 293.7,477.4 C291,474 289.5,471 289,468.7 C288,465 286.5,463 286.6,460.8 C287,458 287.8,456 287.4,454.5 C286.5,453 285.5,452.5 285.8,451.3 C285.5,449.5 285,448.5 285,447.4 C285.5,445.5 286.5,443.5 285.8,442.6 C284,441.5 282,441 281,440.3 C278.5,439 276.5,437.5 277.1,435.5 C278.5,432 281,429 282.6,426 C285,422 288,419 289,416.6 C290,410 291,405 292,400 C293.5,394 295.5,391 298,388Z" fill="#efefef" stroke="#4a4a4a" stroke-width="0.9"/>
<path d="M336,458 C328,466 318,472 311,475" fill="none" stroke="#cfcfcf" stroke-width="2"/>
<path d="M346,452 C338,470 333,485 330,503" fill="none" stroke="#c8c8c8" stroke-width="0.7"/>
<path d="M283,437 C284,439 286,440 287,438" fill="none" stroke="#aaa" stroke-width="0.6"/>
<path d="M286,455 C288,455.5 290,455.5 291,455" fill="none" stroke="#aaa" stroke-width="0.5"/>
<path d="M373,453 C366,468 368,485 372,503 L378,503 C374,485 372,470 373,453Z" fill="#dedede"/>
</g>
<path d="M293,404 C293,384 316,373.5 340,373.5 C364,374 381,390 382.5,411 C383.5,425 378,437 370,441 C361,445 353,440 347,435 C336,431 321,429 306,426 C297,423 293,414 293,404Z" fill="#e4e4e4" stroke="#a0a0a0" stroke-width="0.6"/>
<path d="M298.9,410.4 C298.5,410.3 296.0,410.2 296.4,409.9 C296.7,409.7 300.7,409.1 301.0,408.8 C301.4,408.5 299.3,408.5 298.5,408.3 C297.7,408.1 295.7,407.9 296.1,407.7 C296.5,407.4 300.1,407.0 300.9,406.8" fill="none" stroke="#c2c2c2" stroke-width="0.8"/>
<path d="M296.1,406.0 C296.4,405.9 297.5,405.5 298.3,405.3 C299.1,405.1 301.3,404.9 300.9,404.7 C300.5,404.4 296.6,404.0 296.2,403.8 C295.8,403.5 297.7,403.3 298.5,403.2 C299.4,403.0 300.7,402.8 301.1,402.7" fill="none" stroke="#c2c2c2" stroke-width="0.8"/>
<path d="M296.4,401.3 C297.2,401.3 300.8,401.4 301.3,401.2 C301.8,401.0 300.2,400.6 299.5,400.2 C298.8,399.9 296.6,399.3 297.0,399.1 C297.4,398.9 301.4,399.4 301.9,399.2 C302.4,399.1 300.4,398.4 300.1,398.2" fill="none" stroke="#c2c2c2" stroke-width="0.8"/>
<path d="M300.0,397.2 C300.5,397.2 303.2,397.5 303.1,397.2 C302.9,396.9 299.3,395.7 298.9,395.4 C298.6,395.1 300.2,395.2 301.0,395.2 C301.9,395.2 304.2,395.7 304.1,395.4 C303.9,395.1 300.8,393.7 300.2,393.3" fill="none" stroke="#c2c2c2" stroke-width="0.8"/>
<path d="M304.6,393.9 C304.4,393.7 304.2,393.2 303.6,392.8 C303.1,392.3 301.0,391.1 301.4,391.0 C301.8,390.9 305.4,392.2 306.0,392.1 C306.6,392.1 305.6,391.4 305.1,390.9 C304.6,390.4 303.4,389.4 303.1,389.1" fill="none" stroke="#c2c2c2" stroke-width="0.8"/>
<path d="M308.1,390.6 C307.6,390.1 305.2,388.4 305.0,388.0 C304.7,387.6 305.9,387.9 306.7,388.0 C307.5,388.2 309.8,389.3 309.8,389.0 C309.9,388.7 307.1,386.7 306.9,386.3 C306.7,385.8 308.4,386.4 308.7,386.4" fill="none" stroke="#c2c2c2" stroke-width="0.8"/>
<path d="M310.5,386.5 C310.3,386.1 308.5,384.3 308.9,384.2 C309.2,384.2 312.1,386.0 312.7,386.1 C313.4,386.3 312.9,385.6 312.7,385.0 C312.4,384.5 310.9,382.7 311.3,382.7 C311.6,382.7 314.3,384.5 314.9,384.9" fill="none" stroke="#c2c2c2" stroke-width="0.8"/>
<path d="M313.7,382.2 C313.9,382.2 314.3,382.0 315.0,382.3 C315.7,382.6 317.6,384.3 317.8,384.0 C318.0,383.8 316.3,381.4 316.2,380.9 C316.2,380.4 317.0,380.8 317.6,381.2 C318.3,381.5 319.8,382.7 320.2,383.0" fill="none" stroke="#c2c2c2" stroke-width="0.8"/>
<path d="M318.8,379.2 C319.3,379.6 321.1,381.4 321.7,381.7 C322.2,382.0 322.2,381.5 322.2,380.9 C322.2,380.4 321.3,378.2 321.7,378.2 C322.0,378.2 323.8,380.6 324.3,380.9 C324.8,381.2 324.8,380.3 324.9,380.1" fill="none" stroke="#c2c2c2" stroke-width="0.8"/>
<path d="M325.4,378.4 C325.8,378.9 327.2,381.0 327.5,380.9 C327.8,380.8 327.1,378.2 327.2,377.7 C327.4,377.2 327.9,377.4 328.4,377.9 C328.9,378.3 329.9,380.5 330.2,380.4 C330.5,380.3 330.3,377.7 330.3,377.2" fill="none" stroke="#c2c2c2" stroke-width="0.8"/>
<path d="M332.0,379.2 C332.2,379.2 332.7,379.5 333.0,379.0 C333.2,378.4 333.2,376.0 333.5,376.0 C333.8,376.1 334.5,378.6 334.9,379.0 C335.3,379.5 335.5,379.3 335.8,378.7 C336.1,378.2 336.5,376.4 336.7,375.9" fill="none" stroke="#c2c2c2" stroke-width="0.8"/>
<path d="M338.0,379.8 C338.2,379.3 338.7,377.3 339.0,376.8 C339.4,376.4 339.8,376.4 340.1,376.9 C340.3,377.4 340.4,379.9 340.8,379.9 C341.1,379.9 341.7,377.4 342.1,377.0 C342.5,376.5 343.0,377.1 343.1,377.1" fill="none" stroke="#c2c2c2" stroke-width="0.8"/>
<path d="M344.0,379.2 C344.2,378.8 345.4,376.3 345.7,376.4 C346.0,376.4 345.7,378.8 345.9,379.4 C346.1,379.9 346.3,380.0 346.8,379.6 C347.3,379.2 348.5,376.8 348.8,376.9 C349.1,376.9 348.7,379.4 348.7,379.9" fill="none" stroke="#c2c2c2" stroke-width="0.8"/>
<path d="M350.6,378.4 C350.8,378.4 351.6,377.9 351.7,378.4 C351.8,378.9 350.8,381.4 351.1,381.5 C351.4,381.7 352.9,379.5 353.5,379.2 C354.1,378.8 354.5,378.7 354.6,379.2 C354.6,379.7 353.8,381.8 353.7,382.3" fill="none" stroke="#c2c2c2" stroke-width="0.8"/>
<path d="M357.2,379.2 C357.1,379.6 356.4,381.3 356.4,381.9 C356.3,382.5 356.3,382.9 356.9,382.6 C357.5,382.3 359.7,380.2 360.0,380.3 C360.3,380.3 358.9,382.4 358.8,383.0 C358.7,383.5 359.3,383.6 359.3,383.7" fill="none" stroke="#c2c2c2" stroke-width="0.8"/>
<path d="M362.3,382.2 C362.0,382.7 360.2,385.0 360.4,385.2 C360.6,385.4 362.7,383.8 363.5,383.6 C364.2,383.3 364.9,383.1 364.8,383.6 C364.6,384.1 362.4,386.2 362.6,386.4 C362.7,386.7 365.2,385.2 365.8,385.0" fill="none" stroke="#c2c2c2" stroke-width="0.8"/>
<path d="M365.4,386.5 C365.4,386.7 364.7,387.6 365.3,387.5 C366.0,387.4 369.0,385.7 369.4,385.8 C369.7,385.9 367.7,387.5 367.4,388.0 C367.0,388.6 366.6,389.1 367.2,389.0 C367.9,388.9 370.7,387.8 371.4,387.6" fill="none" stroke="#c2c2c2" stroke-width="0.8"/>
<path d="M367.9,390.6 C368.4,390.4 370.4,389.9 371.2,389.7 C372.0,389.6 373.1,389.4 372.8,389.8 C372.5,390.3 369.4,391.9 369.4,392.2 C369.4,392.5 372.0,391.6 372.8,391.6 C373.7,391.5 374.1,391.7 374.4,391.8" fill="none" stroke="#c2c2c2" stroke-width="0.8"/>
<path d="M371.4,393.9 C372.2,393.7 375.7,392.9 376.1,393.0 C376.5,393.2 374.2,394.2 373.6,394.7 C373.0,395.1 372.0,395.6 372.6,395.7 C373.3,395.8 377.0,395.0 377.4,395.1 C377.7,395.3 375.1,396.4 374.7,396.6" fill="none" stroke="#c2c2c2" stroke-width="0.8"/>
<path d="M376.1,397.2 C376.4,397.3 378.4,397.2 378.0,397.5 C377.6,397.9 373.9,398.8 373.7,399.1 C373.5,399.4 376.1,399.2 376.9,399.3 C377.8,399.4 379.2,399.4 378.8,399.7 C378.3,400.0 375.1,400.8 374.3,401.1" fill="none" stroke="#c2c2c2" stroke-width="0.8"/>
<path d="M379.6,401.3 C379.2,401.5 377.7,402.0 377.0,402.3 C376.2,402.6 374.7,403.0 375.2,403.2 C375.7,403.4 379.7,403.3 380.0,403.6 C380.3,403.8 378.0,404.2 377.2,404.4 C376.4,404.7 375.7,405.0 375.4,405.2" fill="none" stroke="#c2c2c2" stroke-width="0.8"/>
<path d="M379.9,406.0 C379.1,406.1 375.5,406.4 375.1,406.7 C374.7,406.9 377.0,407.2 377.7,407.4 C378.5,407.7 380.2,408.0 379.8,408.2 C379.3,408.4 375.3,408.4 374.9,408.6 C374.5,408.9 377.1,409.4 377.5,409.6" fill="none" stroke="#c2c2c2" stroke-width="0.8"/>
<path d="M306.7,409.4 C306.4,409.3 304.4,409.1 304.7,408.8 C304.9,408.6 308.1,408.1 308.4,407.8 C308.6,407.5 307.0,407.4 306.3,407.2 C305.7,406.9 304.1,406.7 304.4,406.4 C304.8,406.2 307.6,405.8 308.3,405.7" fill="none" stroke="#c2c2c2" stroke-width="0.8"/>
<path d="M304.5,404.6 C304.8,404.5 305.7,404.2 306.4,404.0 C307.0,403.8 308.8,403.7 308.5,403.4 C308.3,403.1 305.2,402.5 304.9,402.3 C304.6,402.0 306.2,401.9 306.9,401.7 C307.6,401.6 308.7,401.4 309.1,401.3" fill="none" stroke="#c2c2c2" stroke-width="0.8"/>
<path d="M305.6,399.7 C306.2,399.7 309.1,399.9 309.6,399.8 C310.0,399.6 308.8,399.1 308.3,398.7 C307.9,398.3 306.3,397.6 306.7,397.4 C307.1,397.3 310.2,397.9 310.7,397.8 C311.1,397.6 309.8,396.8 309.6,396.6" fill="none" stroke="#c2c2c2" stroke-width="0.8"/>
<path d="M309.8,395.6 C310.2,395.7 312.4,396.1 312.4,395.8 C312.4,395.5 309.8,394.1 309.7,393.8 C309.5,393.5 310.8,393.7 311.5,393.7 C312.3,393.7 314.0,394.3 314.0,394.0 C314.1,393.7 312.0,392.2 311.6,391.8" fill="none" stroke="#c2c2c2" stroke-width="0.8"/>
<path d="M315.2,392.6 C315.1,392.4 315.1,392.0 314.9,391.5 C314.7,391.0 313.5,389.8 313.9,389.8 C314.3,389.7 316.8,391.1 317.3,391.1 C317.9,391.1 317.4,390.4 317.2,389.9 C317.1,389.4 316.6,388.4 316.5,388.1" fill="none" stroke="#c2c2c2" stroke-width="0.8"/>
<path d="M320.2,389.8 C319.9,389.4 318.8,387.7 318.8,387.3 C318.9,386.9 319.8,387.3 320.4,387.5 C321.0,387.7 322.5,388.9 322.7,388.6 C322.9,388.4 321.6,386.4 321.7,386.0 C321.8,385.6 323.0,386.3 323.3,386.4" fill="none" stroke="#c2c2c2" stroke-width="0.8"/>
<path d="M325.0,386.6 C325.0,386.3 324.5,384.6 324.9,384.6 C325.3,384.6 326.8,386.5 327.3,386.7 C327.8,386.9 327.8,386.3 328.0,385.8 C328.1,385.3 327.8,383.7 328.2,383.8 C328.6,383.8 329.9,385.6 330.3,386.0" fill="none" stroke="#c2c2c2" stroke-width="0.8"/>
<path d="M330.9,383.8 C331.1,383.8 331.7,383.8 332.2,384.1 C332.6,384.5 333.3,386.1 333.7,385.9 C334.0,385.8 334.0,383.7 334.3,383.4 C334.6,383.0 335.1,383.4 335.5,383.8 C335.9,384.2 336.5,385.4 336.7,385.7" fill="none" stroke="#c2c2c2" stroke-width="0.8"/>
<path d="M338.0,382.7 C338.2,383.1 338.7,384.9 339.0,385.2 C339.4,385.6 339.7,385.2 340.1,384.8 C340.5,384.4 341.2,382.8 341.5,382.9 C341.8,383.0 341.9,385.0 342.2,385.4 C342.5,385.8 343.1,385.1 343.3,385.1" fill="none" stroke="#c2c2c2" stroke-width="0.8"/>
<path d="M345.0,384.1 C345.0,384.5 344.9,386.4 345.3,386.4 C345.7,386.4 346.8,384.5 347.3,384.3 C347.8,384.0 348.1,384.3 348.2,384.8 C348.4,385.2 347.8,387.0 348.2,387.0 C348.6,387.0 350.1,385.3 350.5,385.0" fill="none" stroke="#c2c2c2" stroke-width="0.8"/>
<path d="M350.8,387.0 C350.9,387.0 351.2,387.4 351.8,387.2 C352.4,386.9 354.0,385.4 354.3,385.6 C354.6,385.7 353.5,387.6 353.5,388.0 C353.6,388.5 354.0,388.4 354.6,388.2 C355.2,388.0 356.8,387.1 357.3,386.9" fill="none" stroke="#c2c2c2" stroke-width="0.8"/>
<path d="M355.8,389.9 C356.3,389.6 358.1,388.7 358.7,388.5 C359.3,388.4 359.6,388.6 359.5,389.0 C359.4,389.5 357.8,391.0 358.1,391.2 C358.4,391.4 360.6,390.2 361.2,390.1 C361.9,390.0 361.8,390.6 361.9,390.7" fill="none" stroke="#c2c2c2" stroke-width="0.8"/>
<path d="M361.2,392.4 C361.7,392.2 364.3,391.3 364.5,391.5 C364.8,391.7 362.8,393.0 362.6,393.5 C362.4,393.9 362.5,394.1 363.1,394.1 C363.8,394.1 366.4,393.3 366.6,393.5 C366.8,393.7 364.7,395.0 364.3,395.3" fill="none" stroke="#c2c2c2" stroke-width="0.8"/>
<path d="M366.8,395.4 C366.9,395.5 367.9,395.6 367.6,396.0 C367.3,396.4 364.8,397.5 364.9,397.7 C365.0,398.0 367.6,397.5 368.2,397.5 C368.9,397.6 369.3,397.8 368.9,398.2 C368.5,398.5 366.5,399.4 366.0,399.7" fill="none" stroke="#c2c2c2" stroke-width="0.8"/>
<path d="M370.6,399.7 C370.2,399.9 368.4,400.6 367.9,401.0 C367.5,401.3 367.1,401.6 367.7,401.7 C368.3,401.9 371.3,401.8 371.4,402.0 C371.5,402.3 369.0,402.8 368.5,403.1 C368.0,403.4 368.3,403.7 368.2,403.9" fill="none" stroke="#c2c2c2" stroke-width="0.8"/>
<path d="M371.1,404.7 C370.5,404.8 367.6,405.2 367.5,405.5 C367.4,405.8 369.8,406.0 370.4,406.2 C371.0,406.5 371.6,406.8 371.1,407.0 C370.6,407.2 367.5,407.4 367.4,407.6 C367.3,407.9 369.8,408.4 370.3,408.5" fill="none" stroke="#c2c2c2" stroke-width="0.8"/>
<path d="M296.5,410.7 Q303.8,408.0 308.2,408.2" fill="none" stroke="#c8c8c8" stroke-width="0.6"/>
<path d="M296.0,404.6 Q303.6,402.8 308.1,404.0" fill="none" stroke="#c8c8c8" stroke-width="0.6"/>
<path d="M297.3,398.6 Q304.8,397.7 309.3,399.8" fill="none" stroke="#c8c8c8" stroke-width="0.6"/>
<path d="M300.2,392.9 Q307.5,392.9 311.7,395.9" fill="none" stroke="#c8c8c8" stroke-width="0.6"/>
<path d="M304.7,387.7 Q311.4,388.5 315.2,392.4" fill="none" stroke="#c8c8c8" stroke-width="0.6"/>
<path d="M310.6,383.3 Q316.6,384.9 319.6,389.4" fill="none" stroke="#c8c8c8" stroke-width="0.6"/>
<path d="M317.6,379.8 Q322.6,382.0 324.7,387.2" fill="none" stroke="#c8c8c8" stroke-width="0.6"/>
<path d="M325.4,377.4 Q329.4,380.0 330.4,385.7" fill="none" stroke="#c8c8c8" stroke-width="0.6"/>
<path d="M333.7,376.2 Q336.6,379.1 336.5,385.0" fill="none" stroke="#c8c8c8" stroke-width="0.6"/>
<path d="M342.3,376.2 Q343.9,379.2 342.5,385.2" fill="none" stroke="#c8c8c8" stroke-width="0.6"/>
<path d="M350.6,377.4 Q351.0,380.3 348.4,386.3" fill="none" stroke="#c8c8c8" stroke-width="0.6"/>
<path d="M358.4,379.8 Q357.7,382.5 353.9,388.2" fill="none" stroke="#c8c8c8" stroke-width="0.6"/>
<path d="M365.4,383.3 Q363.6,385.5 358.7,390.8" fill="none" stroke="#c8c8c8" stroke-width="0.6"/>
<path d="M371.3,387.7 Q368.5,389.4 362.7,394.0" fill="none" stroke="#c8c8c8" stroke-width="0.6"/>
<path d="M375.8,392.9 Q372.2,393.8 365.6,397.8" fill="none" stroke="#c8c8c8" stroke-width="0.6"/>
<path d="M378.7,398.6 Q374.6,398.7 367.4,401.8" fill="none" stroke="#c8c8c8" stroke-width="0.6"/>
<path d="M380.0,404.6 Q375.5,403.8 368.0,406.1" fill="none" stroke="#c8c8c8" stroke-width="0.6"/>
<path d="M379.5,410.7 Q374.9,409.0 367.4,410.3" fill="none" stroke="#c8c8c8" stroke-width="0.6"/>
<path d="M348,426 C358,422 377,424 379,432 C379,440 368,443 358,440 C351,437 346,431 348,426Z" fill="#d2d2d2" stroke="#b0b0b0" stroke-width="0.4"/>
<path d="M352,428 l18,2 M351,432 l22,2 M353,436 l18,1" stroke="#b0b0b0" stroke-width="0.5"/>
<path d="M338,426 C342,440 345,455 349,470 L355,470 C351,452 348,438 346,426Z" fill="#dcdcdc" stroke="#b5b5b5" stroke-width="0.4"/>
<path d="M335,437 C338,434 343,436 342,441 C340,445 335,443 335,437Z" fill="#f4f4f4" stroke="#999" stroke-width="0.5"/>
<path d="M296,430 C305,427 318,430 330,432" fill="none" stroke="#bbb" stroke-width="0.6"/>
<path d="M313.6,402.2 C313,392 330,390 343,391.5 C355,393 361,399 358.5,405 L355,404.5 C355,399 348,396 340,396 C326,395.5 318,397 318.5,403.5Z" fill="#e58c97"/>
<ellipse cx="336" cy="404" rx="11" ry="5.5" fill="#d6d6d6"/>
<ellipse cx="338" cy="404" rx="3.5" ry="2" fill="#f2f2f2"/>
<path d="M328,411 C336,413 343,408 345,400 L349,401 C348,412 338,418 328,416Z" fill="#9a8ac8" opacity="0.7"/>
<path d="M331,417.5 C340,419 348,414 350,403 L353.5,404.5 C352,416 345,421 333,421Z" fill="#2aa4b4"/>
<circle cx="330.4" cy="415.5" r="2.6" fill="#3060b8"/>
<circle cx="324.8" cy="409.2" r="2" fill="#e8843a"/>
<ellipse cx="308.7" cy="388.8" rx="10" ry="6.2" transform="rotate(-38 308.7 388.8)" fill="#c9a98a"/>
<ellipse cx="304.4" cy="407.1" rx="8.2" ry="7.2" fill="#c9b5e2"/>
<path d="M305,413 L314,418" stroke="#2a9cb4" stroke-width="2.6"/>
<path d="M305,413 L314,418" stroke="#1a4a9a" stroke-width="0.9" stroke-dasharray="1,1.2"/>
<path d="M296.5,397.5 L300,401" stroke="#f09020" stroke-width="1.6" stroke-dasharray="1.2,0.8"/>
<path d="M344,417 L349,416 L349,421 L345,422Z" fill="#2aa6b8"/>
<path d="M343.5,430 L346.5,429 L347.5,437 L344.5,438Z" fill="#2aa6b8"/>
<path d="M300,414 C315,418 330,420 346,419" fill="none" stroke="#555" stroke-width="0.5"/>
<path d="M312,420 C325,428 335,432 345,433" fill="none" stroke="#555" stroke-width="0.5"/>
<rect x="282.3" y="384.5" width="15.4" height="15.4" transform="rotate(30 290 392.2)" fill="#a9a9a9" stroke="#5a5a5a" stroke-width="0.6"/>
<circle cx="308.7" cy="386.8" r="1" fill="#111"/>
<path d="M308.7,386.8 L319.2,390.5" stroke="#222" stroke-width="0.55"/>
<text x="319.9" y="388.8" font-family="Liberation Sans" font-size="5.6" font-weight="normal" font-style="normal" fill="#333" text-anchor="start" textLength="16.1" lengthAdjust="spacingAndGlyphs" >DLPFC</text>
<circle cx="303.5" cy="405" r="1" fill="#111"/>
<path d="M303.5,405 L286,409.5" stroke="#222" stroke-width="0.55"/>
<text x="276.3" y="411.3" font-family="Liberation Sans" font-size="5.6" font-weight="normal" font-style="normal" fill="#333" text-anchor="start" textLength="9.2" lengthAdjust="spacingAndGlyphs" >OFC</text>
<circle cx="306" cy="414" r="1" fill="#111"/>
<path d="M306,414 L289,418" stroke="#222" stroke-width="0.55"/>
<text x="270.7" y="419.7" font-family="Liberation Sans" font-size="5.6" font-weight="normal" font-style="normal" fill="#333" text-anchor="start" textLength="17.6" lengthAdjust="spacingAndGlyphs" >vmPFC</text>
<circle cx="327" cy="410" r="1" fill="#111"/>
<path d="M327,410 L350,413" stroke="#222" stroke-width="0.55"/>
<text x="350.8" y="414.8" font-family="Liberation Sans" font-size="5.6" font-weight="normal" font-style="normal" fill="#333" text-anchor="start" textLength="9.2" lengthAdjust="spacingAndGlyphs" >NAc</text>
<circle cx="345.9" cy="419" r="1" fill="#111"/>
<path d="M345.9,419 L360.5,422.5" stroke="#222" stroke-width="0.55"/>
<text x="361.4" y="424" font-family="Liberation Sans" font-size="5.6" font-weight="normal" font-style="normal" fill="#333" text-anchor="start" textLength="9.8" lengthAdjust="spacingAndGlyphs" >PAG</text>
<circle cx="345.2" cy="433" r="1" fill="#111"/>
<path d="M345.2,433 L359.5,436.5" stroke="#222" stroke-width="0.55"/>
<text x="360" y="438" font-family="Liberation Sans" font-size="5.6" font-weight="normal" font-style="normal" fill="#333" text-anchor="start" textLength="11" lengthAdjust="spacingAndGlyphs" >RVM</text>
<rect x="450" y="183" width="361" height="329" fill="#c9ccd2" filter="url(#blur2)"/>
<rect x="448.5" y="181.5" width="360" height="328" fill="#fff" stroke="#6f98b8" stroke-width="1"/>
<text x="468" y="198.8" font-family="Liberation Sans" font-size="5.9" font-weight="bold" font-style="normal" fill="#222" text-anchor="start" textLength="58.3" lengthAdjust="spacingAndGlyphs" >JAMA Internal Medicine</text>
<rect x="529.6" y="194.3" width="0.6" height="5" fill="#888"/>
<text x="533.5" y="198.8" font-family="Liberation Sans" font-size="5.9" font-weight="bold" font-style="normal" fill="#2a9ad0" text-anchor="start" textLength="52.5" lengthAdjust="spacingAndGlyphs" >Original Investigation</text>
<text x="468" y="212.7" font-family="Liberation Sans" font-size="10.6" font-weight="normal" font-style="normal" fill="#222" text-anchor="start" textLength="275" lengthAdjust="spacingAndGlyphs" stroke="#222" stroke-width="0.25">Association Between Persistent Pain and Memory Decline</text>
<text x="468" y="226.2" font-family="Liberation Sans" font-size="10.6" font-weight="normal" font-style="normal" fill="#222" text-anchor="start" textLength="227" lengthAdjust="spacingAndGlyphs" stroke="#222" stroke-width="0.25">and Dementia in a Longitudinal Cohort of Elders</text>
<text x="468" y="241.1" font-family="Liberation Sans" font-size="4.6" font-weight="normal" font-style="normal" fill="#555" text-anchor="start" textLength="216.8" lengthAdjust="spacingAndGlyphs" >Elizabeth L. Whitlock, MD, MSc; L. Grisell Diaz-Ramirez, MS; M. Maria Glymour, ScD, MS; W. John Boscardin, PhD;</text>
<text x="468" y="247.2" font-family="Liberation Sans" font-size="4.6" font-weight="normal" font-style="normal" fill="#555" text-anchor="start" textLength="108" lengthAdjust="spacingAndGlyphs" >Kenneth E. Covinsky, MD; Alexander K. Smith, MD, MPH</text>
<rect x="464" y="252.7" width="334.6" height="27.7" fill="#efefe9"/>
<text x="469.4" y="266.3" font-family="Liberation Sans" font-size="8.2" font-weight="bold" font-style="normal" fill="#2a8ec8" text-anchor="start" textLength="109" lengthAdjust="spacingAndGlyphs" >CONCLUSIONS AND RELEVANCE</text>
<text x="582.4" y="266.3" font-family="Liberation Sans" font-size="8.2" font-weight="normal" font-style="normal" fill="#2a2a2a" text-anchor="start" textLength="201" lengthAdjust="spacingAndGlyphs" >Persistent pain was associated with accelerated memory</text>
<text x="469.4" y="277.8" font-family="Liberation Sans" font-size="8.2" font-weight="normal" font-style="normal" fill="#2a2a2a" text-anchor="start" textLength="164" lengthAdjust="spacingAndGlyphs" >decline and increased probability of dementia.</text>
<circle cx="667.9" cy="254.1" r="3.2" fill="#ff9090" opacity="0.5"/><circle cx="667.9" cy="254.1" r="1.8" fill="#e01818"/>
<path d="M490.9,398.0 A141.1,83.69999999999999 0 0 1 773.1,398.0" fill="none" stroke="#1b5a9e" stroke-width="2.3"/>
<path d="M493.1,398.0 A138.9,81.5 0 0 1 770.9,398.0" fill="none" stroke="#c23672" stroke-width="2.2"/>
<path d="M490.9,398.0 A141.1,83.69999999999999 0 0 0 773.1,398.0" fill="none" stroke="#4a8a30" stroke-width="2.3"/>
<path d="M493.1,398.0 A138.9,81.5 0 0 0 770.9,398.0" fill="none" stroke="#f2c418" stroke-width="2.2"/>
<ellipse cx="578" cy="310.3" rx="27.7" ry="25.6" fill="#dbe8f5" stroke="#5b8fc9" stroke-width="0.9"/>
<ellipse cx="685.8" cy="310.8" rx="27.7" ry="25.6" fill="#dbe8f5" stroke="#5b8fc9" stroke-width="0.9"/>
<ellipse cx="497" cy="390.7" rx="27.7" ry="25.2" fill="#dbe8f5" stroke="#5b8fc9" stroke-width="0.9"/>
<ellipse cx="767" cy="388.8" rx="27.7" ry="25.2" fill="#dbe8f5" stroke="#5b8fc9" stroke-width="0.9"/>
<ellipse cx="577" cy="483" rx="28" ry="25.5" fill="#e0efd2" stroke="#9cc48a" stroke-width="0.9"/>
<ellipse cx="690.2" cy="483" rx="28" ry="25.5" fill="#e0efd2" stroke="#9cc48a" stroke-width="0.9"/>
<ellipse cx="552.5" cy="360.7" rx="19.4" ry="17.4" fill="#eceafa" stroke="#9a7fc8" stroke-width="0.9"/>
<ellipse cx="626.3" cy="361.1" rx="19.6" ry="17.7" fill="#fbe7ed" stroke="#d86a7a" stroke-width="0.9"/>
<ellipse cx="709" cy="360.3" rx="19.6" ry="17.8" fill="#e5f0da" stroke="#a8c890" stroke-width="0.9"/>
<ellipse cx="673.1" cy="408" rx="19.6" ry="18" fill="#e3f1fb" stroke="#4a90c8" stroke-width="0.9"/>
<ellipse cx="586.7" cy="407.8" rx="19.7" ry="18" fill="#fdf4cf" stroke="#e0c060" stroke-width="0.9"/>
<ellipse cx="568" cy="295" rx="5.5" ry="6" fill="#b8e0a0" stroke="#90c880" stroke-width="0.5"/>
<path d="M566,294 q2,-2 4,0" stroke="#e8b8c0" stroke-width="1" fill="none"/>
<ellipse cx="561.6" cy="308" rx="6" ry="5" fill="#7fd0ef" stroke="#50b0e0" stroke-width="0.5"/><circle cx="561.3" cy="308.3" r="2.4" fill="#9a4a9a"/>
<path d="M575,308 L585,301 L592,293 L593,298 L597,296 L592,302 L594,307 L588,305 Z" fill="#5ab8e8"/><circle cx="589" cy="301" r="1.6" fill="#a04a9a"/>
<circle cx="583.6" cy="316.6" r="6" fill="#f4bcc8" stroke="#f29aaa" stroke-width="0.6" stroke-dasharray="0.8,0.8"/><circle cx="583.6" cy="316.3" r="3" fill="#8a1a3a"/>
<text x="561.3" y="329.5" font-family="Liberation Sans" font-size="5.4" font-weight="bold" font-style="normal" fill="#111" text-anchor="start" textLength="37.5" lengthAdjust="spacingAndGlyphs" stroke="#111" stroke-width="0.12">IMMUNOLOGY</text>
<clipPath id="brn"><path d="M667,302 C664,294 670,288 680,288.5 C690,287 702,290 705,298 C707,305 703,311 697,313 C690,316 680,316 673,312 C669,309 667,306 667,302Z"/></clipPath>
<g clip-path="url(#brn)"><rect x="660" y="285" width="50" height="35" fill="#f2a07a"/>
<ellipse cx="684.1" cy="299.3" rx="5.3" ry="3.2" fill="#f39a5a"/>
<ellipse cx="686.3" cy="299.9" rx="3.1" ry="3.3" fill="#b884d8"/>
<ellipse cx="691.2" cy="304.4" rx="2.8" ry="2.8" fill="#c8e070"/>
<ellipse cx="669.6" cy="304.8" rx="4.6" ry="2.1" fill="#52b8c4"/>
<ellipse cx="705.3" cy="308.2" rx="4.5" ry="3.5" fill="#f0d860"/>
<ellipse cx="672.3" cy="287.3" rx="4.1" ry="2.1" fill="#86aee2"/>
<ellipse cx="673.6" cy="292.3" rx="2.6" ry="3.2" fill="#f08a9c"/>
<ellipse cx="683.6" cy="305.5" rx="4.1" ry="3.6" fill="#e8e070"/>
<ellipse cx="686.0" cy="301.6" rx="3.9" ry="2.7" fill="#9a8ad8"/>
<ellipse cx="705.9" cy="308.9" rx="5.0" ry="3.8" fill="#f39a5a"/>
<ellipse cx="678.6" cy="292.1" rx="3.4" ry="2.2" fill="#b884d8"/>
<ellipse cx="696.7" cy="295.8" rx="5.0" ry="3.0" fill="#c8e070"/>
<ellipse cx="704.3" cy="305.6" rx="2.5" ry="2.5" fill="#52b8c4"/>
<ellipse cx="702.4" cy="297.3" rx="5.4" ry="3.0" fill="#f0d860"/>
<ellipse cx="668.9" cy="300.8" rx="4.8" ry="2.7" fill="#86aee2"/>
<ellipse cx="669.5" cy="294.3" rx="5.4" ry="3.9" fill="#f08a9c"/>
<ellipse cx="670.7" cy="292.4" rx="2.8" ry="2.1" fill="#e8e070"/>
<ellipse cx="697.9" cy="290.9" rx="4.2" ry="3.1" fill="#9a8ad8"/>
<ellipse cx="673.6" cy="303.1" rx="2.9" ry="3.6" fill="#f39a5a"/>
<ellipse cx="670.7" cy="296.3" rx="3.1" ry="2.7" fill="#b884d8"/>
<ellipse cx="704.8" cy="304.7" rx="3.4" ry="4.2" fill="#c8e070"/>
<ellipse cx="674.4" cy="295.7" rx="5.1" ry="3.6" fill="#52b8c4"/>
<ellipse cx="670.0" cy="308.8" rx="3.1" ry="2.6" fill="#f0d860"/>
<ellipse cx="696.9" cy="294.2" rx="3.4" ry="2.2" fill="#86aee2"/>
<ellipse cx="669.6" cy="299.8" rx="3.2" ry="3.5" fill="#f08a9c"/>
<ellipse cx="680.9" cy="297.0" rx="5.4" ry="3.2" fill="#e8e070"/>
<ellipse cx="689.0" cy="306.1" rx="3.0" ry="2.4" fill="#9a8ad8"/>
<ellipse cx="702.3" cy="305.0" rx="3.2" ry="2.5" fill="#f39a5a"/>
<ellipse cx="695.6" cy="307.7" rx="3.1" ry="4.4" fill="#b884d8"/>
<ellipse cx="701.3" cy="300.3" rx="3.8" ry="2.3" fill="#c8e070"/>
</g>
<path d="M674,306 C676,300 692,299 699,304 C701,310 692,315 684,314 C677,313 673,310 674,306Z" fill="#f28ea0"/>
<path d="M677,307 q3,-2 6,0 q3,2 6,0 q3,-2 6,0 M679,310 q3,-2 6,0 q3,2 6,0" stroke="#fbd0d8" stroke-width="0.5" fill="none"/>
<path d="M687,313 l1.5,6 l2.5,0 l-0.5,-6Z" fill="#40b0b0"/><ellipse cx="697" cy="313.5" rx="4" ry="2.6" fill="#f39a5a"/>
<text x="671.6" y="326.9" font-family="Liberation Sans" font-size="5.4" font-weight="bold" font-style="normal" fill="#111" text-anchor="start" textLength="27.5" lengthAdjust="spacingAndGlyphs" stroke="#111" stroke-width="0.12">NERVOUS</text>
<text x="674.5" y="332.8" font-family="Liberation Sans" font-size="5.4" font-weight="bold" font-style="normal" fill="#111" text-anchor="start" textLength="22" lengthAdjust="spacingAndGlyphs" stroke="#111" stroke-width="0.12">SYSTEM</text>
<path d="M494,367 L496,366 L498,374 L495,375Z" fill="#f0b0b0"/>
<path d="M486,378 C486,381 487,384 489,385 L503,383 C505,383 504,376 500,373.5 C495,372 487,373 486,378Z" fill="#a8593a"/>
<path d="M497,374 C503,371 510,374 509,381 C508,386 502,388 497,385 C501,383 502,378 497,374Z" fill="#eda2a2"/>
<circle cx="490.5" cy="381.5" r="1.5" fill="#5cc060"/>
<path d="M486.5,386 C487,383 505,382 506.5,386 C508.5,393 506,399 500.5,401 C499,403 498,405 497,405.5 C496,403 496,402 495,401 C490,399 486,394 486.5,386Z" fill="#eba596"/>
<path d="M489,388 q2,2 4,0 q2,-2 4,0 q2,2 4,0 M488.5,392 q2,2 4,0 q2,-2 4,0 q2,2 4,0 q1.5,1.5 3,0 M490,396 q2,2 4,0 q2,-2 4,0 q2,2 4,0" stroke="#d48478" stroke-width="0.6" fill="none"/>
<text x="481.6" y="410.6" font-family="Liberation Sans" font-size="5.4" font-weight="bold" font-style="normal" fill="#111" text-anchor="start" textLength="29.5" lengthAdjust="spacingAndGlyphs" stroke="#111" stroke-width="0.12">DIGESTION</text>
<clipPath id="hem"><ellipse cx="767" cy="384" rx="23" ry="12"/></clipPath>
<defs><linearGradient id="hemg" x1="0" y1="0" x2="0" y2="1"><stop offset="0" stop-color="#fbf1ee"/><stop offset="0.45" stop-color="#f4e2e2"/><stop offset="0.6" stop-color="#c8dcee"/><stop offset="1" stop-color="#8fb6de"/></linearGradient></defs>
<ellipse cx="767" cy="384" rx="23" ry="12" fill="url(#hemg)"/>
<g clip-path="url(#hem)">
<ellipse cx="756.0" cy="387.9" rx="1.4" ry="2.9" transform="rotate(15 756.0 387.9)" fill="#c85a66"/>
<ellipse cx="781.7" cy="382.8" rx="1.8" ry="1.6" transform="rotate(88 781.7 382.8)" fill="#d07080"/>
<ellipse cx="767.8" cy="382.2" rx="2.5" ry="1.7" transform="rotate(42 767.8 382.2)" fill="#b84050"/>
<ellipse cx="776.9" cy="383.3" rx="2.0" ry="3.3" transform="rotate(131 776.9 383.3)" fill="#a83444"/>
<ellipse cx="750.3" cy="387.5" rx="1.8" ry="3.2" transform="rotate(19 750.3 387.5)" fill="#b84050"/>
<ellipse cx="760.9" cy="385.8" rx="2.0" ry="2.8" transform="rotate(162 760.9 385.8)" fill="#c85a66"/>
<ellipse cx="772.7" cy="383.8" rx="1.3" ry="2.9" transform="rotate(27 772.7 383.8)" fill="#d07080"/>
<ellipse cx="778.1" cy="385.4" rx="1.7" ry="2.2" transform="rotate(158 778.1 385.4)" fill="#c85a66"/>
<ellipse cx="753.0" cy="386.0" rx="2.1" ry="2.1" transform="rotate(64 753.0 386.0)" fill="#d07080"/>
<ellipse cx="768.2" cy="382.2" rx="1.4" ry="2.6" transform="rotate(92 768.2 382.2)" fill="#b84050"/>
<ellipse cx="781.6" cy="384.9" rx="2.7" ry="2.6" transform="rotate(62 781.6 384.9)" fill="#b84050"/>
<ellipse cx="759.0" cy="383.1" rx="1.3" ry="2.0" transform="rotate(54 759.0 383.1)" fill="#d07080"/>
<ellipse cx="753.7" cy="384.7" rx="1.5" ry="2.8" transform="rotate(175 753.7 384.7)" fill="#c85a66"/>
<ellipse cx="788.8" cy="380.1" rx="1.4" ry="3.1" transform="rotate(68 788.8 380.1)" fill="#c85a66"/>
<ellipse cx="771.0" cy="386.2" rx="1.4" ry="2.6" transform="rotate(73 771.0 386.2)" fill="#b84050"/>
<ellipse cx="771.9" cy="382.4" rx="1.4" ry="1.7" transform="rotate(19 771.9 382.4)" fill="#a83444"/>
<ellipse cx="752.8" cy="388.0" rx="2.0" ry="1.8" transform="rotate(109 752.8 388.0)" fill="#c85a66"/>
<ellipse cx="746.7" cy="383.8" rx="1.8" ry="2.6" transform="rotate(134 746.7 383.8)" fill="#a83444"/>
<ellipse cx="760.3" cy="383.9" rx="2.2" ry="2.5" transform="rotate(11 760.3 383.9)" fill="#b84050"/>
<ellipse cx="784.8" cy="384.7" rx="2.5" ry="3.1" transform="rotate(31 784.8 384.7)" fill="#a83444"/>
<ellipse cx="788.7" cy="381.8" rx="1.3" ry="2.7" transform="rotate(89 788.7 381.8)" fill="#d07080"/>
<ellipse cx="780.8" cy="382.1" rx="1.4" ry="2.9" transform="rotate(117 780.8 382.1)" fill="#d07080"/>
<ellipse cx="768.6" cy="381.5" rx="2.7" ry="2.6" transform="rotate(147 768.6 381.5)" fill="#d07080"/>
<ellipse cx="755.9" cy="383.3" rx="1.9" ry="1.7" transform="rotate(131 755.9 383.3)" fill="#b84050"/>
<ellipse cx="774.8" cy="385.4" rx="2.0" ry="3.5" transform="rotate(135 774.8 385.4)" fill="#c85a66"/>
<ellipse cx="768.1" cy="382.9" rx="1.8" ry="2.5" transform="rotate(35 768.1 382.9)" fill="#a83444"/>
<ellipse cx="773.0" cy="386.0" rx="2.4" ry="3.4" transform="rotate(177 773.0 386.0)" fill="#c85a66"/>
<ellipse cx="773.8" cy="380.9" rx="1.9" ry="3.0" transform="rotate(145 773.8 380.9)" fill="#a83444"/>
<ellipse cx="768.7" cy="384.7" rx="2.7" ry="3.1" transform="rotate(53 768.7 384.7)" fill="#b84050"/>
<ellipse cx="754.6" cy="384.4" rx="2.7" ry="3.2" transform="rotate(56 754.6 384.4)" fill="#a83444"/>
<ellipse cx="763.5" cy="383.7" rx="2.7" ry="2.5" transform="rotate(124 763.5 383.7)" fill="#a83444"/>
<ellipse cx="782.1" cy="383.3" rx="1.8" ry="2.4" transform="rotate(88 782.1 383.3)" fill="#b84050"/>
<ellipse cx="757.8" cy="382.3" rx="2.4" ry="2.0" transform="rotate(76 757.8 382.3)" fill="#b84050"/>
<ellipse cx="773.5" cy="385.5" rx="2.8" ry="2.0" transform="rotate(149 773.5 385.5)" fill="#a83444"/>
<ellipse cx="758.2" cy="387.2" rx="1.9" ry="2.2" transform="rotate(174 758.2 387.2)" fill="#d07080"/>
<ellipse cx="757.0" cy="386.9" rx="2.2" ry="3.2" transform="rotate(66 757.0 386.9)" fill="#b84050"/>
<ellipse cx="780.9" cy="382.2" rx="2.2" ry="3.1" transform="rotate(179 780.9 382.2)" fill="#b84050"/>
<ellipse cx="780.6" cy="380.7" rx="2.2" ry="2.9" transform="rotate(16 780.6 380.7)" fill="#d07080"/>
</g>
<text x="760.3" y="405.7" font-family="Liberation Sans" font-size="5.4" font-weight="bold" font-style="normal" fill="#111" text-anchor="start" textLength="15.5" lengthAdjust="spacingAndGlyphs" stroke="#111" stroke-width="0.12">HEMA</text>
<text x="756.5" y="412.2" font-family="Liberation Sans" font-size="5.4" font-weight="bold" font-style="normal" fill="#111" text-anchor="start" textLength="22" lengthAdjust="spacingAndGlyphs" stroke="#111" stroke-width="0.12">TOLOGY</text>
<path d="M545.0,345.5 L544.7,347.0 L544.5,348.5 L544.5,349.7 L544.9,350.7 L545.5,351.3 L546.5,351.6 L547.8,351.7 L549.3,351.6 L550.9,351.4 L552.5,351.3 L553.8,351.3 L555.0,351.5 L555.8,352.0 L556.3,352.8 L556.4,354.0 L556.3,355.3 L556.0,356.8 L555.7,358.4 L555.4,359.9 L555.3,361.2 L555.6,362.3 L556.1,363.0 L557.0,363.5 L558.2,363.7 L559.6,363.6 L561.2,363.5 L562.7,363.3 L564.2,363.2 L565.4,363.3 L566.4,363.7 L567.0,364.4 L567.2,365.5 L567.2,366.7 L567.0,368.2 L566.7,369.8 L566.4,371.3 L566.2,372.7 L566.3,373.8 L566.7,374.7 L567.5,375.3 L572.5,370.7 L572.0,369.9 L571.2,369.4 L570.0,369.2 L568.6,369.2 L567.1,369.4 L565.5,369.6 L564.0,369.6 L562.8,369.5 L561.8,369.2 L561.1,368.5 L560.8,367.5 L560.8,366.3 L561.0,364.8 L561.3,363.3 L561.6,361.8 L561.8,360.3 L561.8,359.1 L561.4,358.2 L560.7,357.6 L559.7,357.3 L558.3,357.2 L556.8,357.3 L555.2,357.5 L553.7,357.7 L552.3,357.7 L551.2,357.4 L550.5,356.9 L550.0,356.0 L549.9,354.9 L550.0,353.5 L550.3,352.0 L550.7,350.4 L550.9,348.9 L551.0,347.6 L550.7,346.6 L550.1,345.8 L549.2,345.4 L548.0,345.3 L546.6,345.3 L545.0,345.5Z" fill="#c9b4e8" opacity="0.75"/><path d="M545.0,345.5 L544.7,347.0 L544.5,348.5 L544.5,349.7 L544.9,350.7 L545.5,351.3 L546.5,351.6 L547.8,351.7 L549.3,351.6 L550.9,351.4 L552.5,351.3 L553.8,351.3 L555.0,351.5 L555.8,352.0 L556.3,352.8 L556.4,354.0 L556.3,355.3 L556.0,356.8 L555.7,358.4 L555.4,359.9 L555.3,361.2 L555.6,362.3 L556.1,363.0 L557.0,363.5 L558.2,363.7 L559.6,363.6 L561.2,363.5 L562.7,363.3 L564.2,363.2 L565.4,363.3 L566.4,363.7 L567.0,364.4 L567.2,365.5 L567.2,366.7 L567.0,368.2 L566.7,369.8 L566.4,371.3 L566.2,372.7 L566.3,373.8 L566.7,374.7 L567.5,375.3" stroke="#8a62c0" stroke-width="0.7" fill="none"/><path d="M545.0,345.5 L546.6,345.3 L548.0,345.3 L549.2,345.4 L550.1,345.8 L550.7,346.6 L551.0,347.6 L550.9,348.9 L550.7,350.4 L550.3,352.0 L550.0,353.5 L549.9,354.9 L550.0,356.0 L550.5,356.9 L551.2,357.4 L552.3,357.7 L553.7,357.7 L555.2,357.5 L556.8,357.3 L558.3,357.2 L559.7,357.3 L560.7,357.6 L561.4,358.2 L561.8,359.1 L561.8,360.3 L561.6,361.8 L561.3,363.3 L561.0,364.8 L560.8,366.3 L560.8,367.5 L561.1,368.5 L561.8,369.2 L562.8,369.5 L564.0,369.6 L565.5,369.6 L567.1,369.4 L568.6,369.2 L570.0,369.2 L571.2,369.4 L572.0,369.9 L572.5,370.7" stroke="#a07ad0" stroke-width="0.5" fill="none"/>
<path d="M535.5,359.0 L535.7,360.7 L536.0,362.0 L536.6,362.7 L537.5,362.8 L538.6,362.2 L539.9,361.3 L541.3,360.3 L542.5,359.5 L543.5,359.2 L544.2,359.6 L544.7,360.7 L544.9,362.2 L545.1,363.9 L545.4,365.4 L545.8,366.5 L546.5,366.9 L547.6,366.7 L548.8,365.9 L550.1,364.8 L551.4,363.9 L552.6,363.3 L553.4,363.4 L554.0,364.1 L554.4,365.5 L554.6,367.1 L554.8,368.8 L555.1,370.1 L555.7,370.9 L556.5,370.9 L557.7,370.4 L559.0,369.4 L560.3,368.4 L561.6,367.6 L562.6,367.3 L563.3,367.8 L563.8,368.8 L564.0,370.3 L564.2,372.0 L564.4,373.6 L564.9,374.6 L567.1,369.4 L566.0,369.8 L564.8,370.7 L563.4,371.7 L562.1,372.6 L561.1,373.0 L560.3,372.8 L559.8,371.9 L559.5,370.4 L559.3,368.7 L559.1,367.1 L558.7,365.9 L558.0,365.3 L557.1,365.4 L555.9,366.1 L554.6,367.1 L553.2,368.1 L552.0,368.8 L551.1,368.9 L550.4,368.3 L550.1,367.1 L549.8,365.5 L549.7,363.8 L549.4,362.4 L548.9,361.5 L548.1,361.3 L547.0,361.7 L545.7,362.5 L544.4,363.6 L543.1,364.5 L542.0,364.9 L541.2,364.6 L540.7,363.7 L540.4,362.3 L540.2,360.6 L540.0,359.0 L539.6,357.8 L539.0,357.2 L538.0,357.3 L536.8,358.0 L535.5,359.0Z" fill="#c9b4e8" opacity="0.75"/><path d="M535.5,359.0 L535.7,360.7 L536.0,362.0 L536.6,362.7 L537.5,362.8 L538.6,362.2 L539.9,361.3 L541.3,360.3 L542.5,359.5 L543.5,359.2 L544.2,359.6 L544.7,360.7 L544.9,362.2 L545.1,363.9 L545.4,365.4 L545.8,366.5 L546.5,366.9 L547.6,366.7 L548.8,365.9 L550.1,364.8 L551.4,363.9 L552.6,363.3 L553.4,363.4 L554.0,364.1 L554.4,365.5 L554.6,367.1 L554.8,368.8 L555.1,370.1 L555.7,370.9 L556.5,370.9 L557.7,370.4 L559.0,369.4 L560.3,368.4 L561.6,367.6 L562.6,367.3 L563.3,367.8 L563.8,368.8 L564.0,370.3 L564.2,372.0 L564.4,373.6 L564.9,374.6" stroke="#8a62c0" stroke-width="0.7" fill="none"/><path d="M535.5,359.0 L536.8,358.0 L538.0,357.3 L539.0,357.2 L539.6,357.8 L540.0,359.0 L540.2,360.6 L540.4,362.3 L540.7,363.7 L541.2,364.6 L542.0,364.9 L543.1,364.5 L544.4,363.6 L545.7,362.5 L547.0,361.7 L548.1,361.3 L548.9,361.5 L549.4,362.4 L549.7,363.8 L549.8,365.5 L550.1,367.1 L550.4,368.3 L551.1,368.9 L552.0,368.8 L553.2,368.1 L554.6,367.1 L555.9,366.1 L557.1,365.4 L558.0,365.3 L558.7,365.9 L559.1,367.1 L559.3,368.7 L559.5,370.4 L559.8,371.9 L560.3,372.8 L561.1,373.0 L562.1,372.6 L563.4,371.7 L564.8,370.7 L566.0,369.8 L567.1,369.4" stroke="#a07ad0" stroke-width="0.5" fill="none"/>
<text x="543" y="376.5" font-family="Liberation Sans" font-size="5.4" font-weight="bold" font-style="normal" fill="#111" text-anchor="start" textLength="15.5" lengthAdjust="spacingAndGlyphs" stroke="#111" stroke-width="0.12">GENE</text>
<path d="M612,356 L628,349 L641,356 L625,365 Z" fill="#e898b8" stroke="#c87090" stroke-width="0.5"/>
<path d="M612,356 L625,365 L625,367 L612,358Z M625,365 L641,356 L641,358 L625,367Z" fill="#b07090"/>
<path d="M616,354 L629,362 M620,352 L633,360 M624,350 L637,358 M618,359 L632,351 M622,361 L636,353" stroke="#c06090" stroke-width="0.4"/>
<text x="616.4" y="375.1" font-family="Liberation Sans" font-size="5.4" font-weight="bold" font-style="normal" fill="#111" text-anchor="start" textLength="18.7" lengthAdjust="spacingAndGlyphs" stroke="#111" stroke-width="0.12">TISSUE</text>
<path d="M704,352 C701,351 701,348 703,347 M713,352 C716,351 716,348 714,347" stroke="#3a9ae0" stroke-width="1.1" fill="none"/>
<ellipse cx="708.5" cy="348" rx="4.2" ry="3.3" fill="#f27ccc"/>
<path d="M704,352 C700,356 700,364 704,367.5 L708,367.5" stroke="#3a9ae0" stroke-width="1.3" fill="none"/>
<path d="M713,352 C717,356 717,364 713,367.5 L709,367.5" stroke="#e03838" stroke-width="1.3" fill="none"/>
<path d="M704.5,355 C705,352 710,352 712,354 C713,358 711,361 708,362 C705,361 704,358 704.5,355Z" fill="#d82222"/>
<path d="M704,353 C706,352 708,353 708,356 C706,357 704,356 704,353Z" fill="#3a90e0"/>
<text x="697.2" y="376.4" font-family="Liberation Sans" font-size="5.4" font-weight="bold" font-style="normal" fill="#111" text-anchor="start" textLength="22.8" lengthAdjust="spacingAndGlyphs" stroke="#111" stroke-width="0.12">SYSTEM</text>
<path d="M660,401 C660,394 670,393 684,394 C688,395 688,399 684,403 C678,408 668,412 664,412 C660,410 660,406 660,401Z" fill="#b83a3a"/>
<path d="M672,396 L671,408" stroke="#e0b060" stroke-width="0.6"/>
<text x="663.5" y="422.7" font-family="Liberation Sans" font-size="5.4" font-weight="bold" font-style="normal" fill="#111" text-anchor="start" textLength="19.7" lengthAdjust="spacingAndGlyphs" stroke="#111" stroke-width="0.12">ORGAN</text>
<path d="M577,409.5 C585,408 589,403 596,399.5" stroke="#f0a040" stroke-width="0.9" fill="none"/>
<line x1="575.9" y1="410.2" x2="580.8" y2="411.2" stroke="#f4b890" stroke-width="0.5"/>
<line x1="575.9" y1="410.2" x2="579.6" y2="413.5" stroke="#f4b890" stroke-width="0.5"/>
<line x1="575.9" y1="410.2" x2="577.5" y2="414.9" stroke="#f4b890" stroke-width="0.5"/>
<line x1="575.9" y1="410.2" x2="574.9" y2="415.1" stroke="#f4b890" stroke-width="0.5"/>
<line x1="575.9" y1="410.2" x2="572.6" y2="413.9" stroke="#f4b890" stroke-width="0.5"/>
<line x1="575.9" y1="410.2" x2="571.2" y2="411.8" stroke="#f4b890" stroke-width="0.5"/>
<line x1="575.9" y1="410.2" x2="571.0" y2="409.2" stroke="#f4b890" stroke-width="0.5"/>
<line x1="575.9" y1="410.2" x2="572.2" y2="406.9" stroke="#f4b890" stroke-width="0.5"/>
<line x1="575.9" y1="410.2" x2="574.3" y2="405.5" stroke="#f4b890" stroke-width="0.5"/>
<line x1="575.9" y1="410.2" x2="576.9" y2="405.3" stroke="#f4b890" stroke-width="0.5"/>
<line x1="575.9" y1="410.2" x2="579.2" y2="406.5" stroke="#f4b890" stroke-width="0.5"/>
<line x1="575.9" y1="410.2" x2="580.6" y2="408.6" stroke="#f4b890" stroke-width="0.5"/>
<circle cx="575.9" cy="410.2" r="2.1" fill="#f06a10"/>
<path d="M596,399.5 l3.5,-4 M596,399.5 l5,-1 M596,399.5 l4,3.5 M596,399.5 l0,-4.5 M599.5,395.5 l1.5,-1 M601,398.5 l1.5,1" stroke="#f2c0a0" stroke-width="0.6" fill="none"/>
<text x="580" y="422.2" font-family="Liberation Sans" font-size="5.4" font-weight="bold" font-style="normal" fill="#111" text-anchor="start" textLength="13.4" lengthAdjust="spacingAndGlyphs" stroke="#111" stroke-width="0.12">CELL</text>
<line x1="561.2" y1="379.1" x2="572.0" y2="391.2" stroke="#111" stroke-width="1.05" stroke-dasharray="2,1.3"/><path d="M567.5,390.5 L572.5,391.8 L571.8,386.6" stroke="#111" stroke-width="1.1" fill="none"/>
<line x1="602.4" y1="392.5" x2="614.4" y2="380.8" stroke="#111" stroke-width="1.05" stroke-dasharray="2,1.3"/><path d="M614.0,385.3 L615,380.2 L609.9,381.1" stroke="#111" stroke-width="1.1" fill="none"/>
<line x1="646" y1="378" x2="657.0" y2="389.9" stroke="#111" stroke-width="1.05" stroke-dasharray="2,1.3"/><path d="M652.4,389.3 L657.5,390.5 L656.8,385.4" stroke="#111" stroke-width="1.1" fill="none"/>
<line x1="689.4" y1="393.5" x2="701.6" y2="382.0" stroke="#111" stroke-width="1.05" stroke-dasharray="2,1.3"/><path d="M701.1,386.6 L702.2,381.5 L697.1,382.3" stroke="#111" stroke-width="1.1" fill="none"/>
<rect x="627.2" y="430.6" width="81.8" height="23.1" rx="3" fill="#fdf5dc" stroke="#e6d08c" stroke-width="0.8"/>
<rect x="548.3" y="430.5" width="88.5" height="23.2" rx="3" fill="#dce9f6" stroke="#8fb4dc" stroke-width="0.8"/>
<rect x="627.2" y="430.8" width="10.4" height="22.8" rx="3" fill="#e6e8de" stroke="#d9c27a" stroke-width="0.7"/>
<text x="559.7" y="445.8" font-family="Liberation Sans" font-size="11" font-weight="bold" font-style="normal" fill="#1b4a8c" text-anchor="start" textLength="66.4" lengthAdjust="spacingAndGlyphs" >Chronic pain</text>
<text x="648.6" y="445.8" font-family="Liberation Sans" font-size="11" font-weight="bold" font-style="normal" fill="#c9a22a" text-anchor="start" textLength="48.7" lengthAdjust="spacingAndGlyphs" >Dementia</text>
<path d="M560,477 A17,17 0 0 0 594,477 Z" fill="#2f9e82"/>
<rect x="563" y="472" width="5" height="15" fill="#2a8a50"/>
<rect x="568" y="467" width="6" height="20" fill="#1f7a46"/>
<rect x="574" y="463" width="7" height="24" fill="#3aa870"/>
<rect x="581" y="466" width="6" height="21" fill="#1f7a46"/>
<rect x="587" y="471" width="6" height="16" fill="#2a8a50"/>
<rect x="564" y="472" width="28" height="1.2" fill="#e8c428" opacity="0.75"/>
<rect x="564" y="477" width="28" height="1.2" fill="#e8c428" opacity="0.75"/>
<rect x="564" y="482" width="28" height="1.2" fill="#e8c428" opacity="0.75"/>
<rect x="565" y="470" width="0.9" height="17" fill="#e8c428" opacity="0.45"/>
<rect x="568" y="470" width="0.9" height="17" fill="#e8c428" opacity="0.45"/>
<rect x="571" y="470" width="0.9" height="17" fill="#e8c428" opacity="0.45"/>
<rect x="574" y="470" width="0.9" height="17" fill="#e8c428" opacity="0.45"/>
<rect x="577" y="470" width="0.9" height="17" fill="#e8c428" opacity="0.45"/>
<rect x="580" y="470" width="0.9" height="17" fill="#e8c428" opacity="0.45"/>
<rect x="583" y="470" width="0.9" height="17" fill="#e8c428" opacity="0.45"/>
<rect x="586" y="470" width="0.9" height="17" fill="#e8c428" opacity="0.45"/>
<rect x="589" y="470" width="0.9" height="17" fill="#e8c428" opacity="0.45"/>
<path d="M563,467 q3,-2 6,0 M586,465 q3,-2 6,0" stroke="#7ad0e0" stroke-width="0.8" fill="none"/>
<path d="M590,476 l4,-6 l1,5Z" fill="#3aa870"/>
<text x="557.9" y="501.8" font-family="Liberation Sans" font-size="5.4" font-weight="bold" font-style="normal" fill="#111" text-anchor="start" textLength="39.5" lengthAdjust="spacingAndGlyphs" stroke="#111" stroke-width="0.12">ENVIRONMENT</text>
<path d="M667,479 C667,466 674,464 690,464 C706,464 712,466 712,479 C712,492 706,494 690,494 C674,494 667,492 667,479Z" fill="#a9abae"/>
<path d="M680,471 C680,467 685,466 687,467 C689,464 695,464 697,467 C701,467 702,470 700,471.5 L680,471.5Z" fill="#58585c"/>
<path d="M688,481 C688,477 692,476 695,477 C698,479 698,487 696,490 L688,490Z" fill="#f4f4f4"/>
<path d="M681,490 C683,485 687,483 690,484 L692,488 C689,488 687,489 686,491Z" fill="#5a5a5e"/>
<path d="M680,491 L690,490 L690,492 L680,492.5Z" fill="#444"/>
<circle cx="693" cy="476.5" r="2.3" fill="#704848"/>
<path d="M684,480 l0.2,0.5 M702,476 l0.2,0.5 M676,484 l0.2,0.5 M705,486 l0.2,0.5" stroke="#d0d0d0" stroke-width="0.5"/>
<text x="670.9" y="501.8" font-family="Liberation Sans" font-size="5.4" font-weight="bold" font-style="normal" fill="#111" text-anchor="start" textLength="37.6" lengthAdjust="spacingAndGlyphs" stroke="#111" stroke-width="0.12">PSYCHOLOGY</text>
</svg>
<div class="a" style="left:879px;top:249px;width:127.3px;height:72px;border:2px solid #2cc46a;overflow:hidden;background:#4a4e55">
<svg width="123.3" height="68" viewBox="881 251 123.3 68" style="display:block">
<defs>
<linearGradient id="wall" x1="0" x2="1"><stop offset="0" stop-color="#6f7a76"/><stop offset="0.08" stop-color="#a9b1ac"/><stop offset="0.3" stop-color="#c4cac4"/><stop offset="0.75" stop-color="#d3d8d1"/><stop offset="1" stop-color="#c0c5bf"/></linearGradient>
<linearGradient id="shirt" x1="0" x2="1"><stop offset="0" stop-color="#39414c"/><stop offset="0.5" stop-color="#2c323b"/><stop offset="1" stop-color="#3c4550"/></linearGradient>
<filter id="vb" x="-30%" y="-30%" width="160%" height="160%"><feGaussianBlur stdDeviation="2.2"/></filter>
<filter id="vb1" x="-30%" y="-30%" width="160%" height="160%"><feGaussianBlur stdDeviation="0.8"/></filter>
</defs>
<rect x="881" y="251" width="48" height="68" fill="url(#wall)"/>
<g filter="url(#vb)">
<rect x="926" y="248" width="50" height="74" fill="#3a3d47"/>
<rect x="934" y="254" width="10" height="36" fill="#4c4f5c"/>
<rect x="946" y="253" width="26" height="10" fill="#6c6f80"/>
<rect x="930" y="262" width="8" height="12" fill="#8c8ea4" opacity="0.7"/>
<rect x="952" y="296" width="14" height="10" fill="#c8c8cc" opacity="0.6"/>
<rect x="975" y="248" width="23" height="74" fill="#c6cac9"/>
<rect x="997" y="248" width="10" height="74" fill="#2a2d33"/>
<rect x="998" y="283" width="7" height="14" fill="#8a9090"/>
<ellipse cx="987" cy="300" rx="10" ry="4" fill="#9aa0a2"/>
</g>
<g filter="url(#vb1)">
<path d="M914,320 C916,306 925,299 942,295.5 C950,294 967,294 977,296 C990,299 998,307 1003,320Z" fill="url(#shirt)"/>
<path d="M930,300 C938,297 944,297 948,299 M975,299 C982,300 988,303 992,308" stroke="#55606c" stroke-width="2" fill="none" opacity="0.7"/>
<path d="M950,297 L958.5,312 L968,297Z" fill="#1a1d22"/>
<path d="M952,290 L952,299 L965,299 L965,290Z" fill="#d2b2a4"/>
<path d="M945.5,279 C945.5,271 950,268 958.5,268 C967,268 971.5,271 971.5,279 C971.5,289 967.5,297.5 958.5,300.5 C949.5,297.5 945.5,289 945.5,279Z" fill="#e6cdc2"/><ellipse cx="962" cy="287" rx="4" ry="3" fill="#f0dcd4" opacity="0.7"/>
<path d="M945.5,277 C942,268 943,260 950,257 C956,254.5 964,254.5 969,257.5 C975,260.5 976,268 972.5,277 C971.5,274 970.5,272.5 969,271.5 C965,270.5 961,270 958,271 C954,270 950.5,270.5 948,272 C947,273 946,275 945.5,277Z" fill="#1b1c21"/>
<path d="M947,262 l-3,-3 M955,257 l0,-3 M963,257 l3,-3 M970,262 l4,-2" stroke="#1a1b20" stroke-width="2"/>
</g>
<path d="M947.5,281.5 L956,281.5 M961,281.5 L970,281.5 M956,282 L961,282" stroke="#806e9a" stroke-width="0.6" fill="none"/>
<ellipse cx="952" cy="282.3" rx="1.2" ry="0.7" fill="#3a3030"/>
<ellipse cx="965.5" cy="282.3" rx="1.2" ry="0.7" fill="#3a3030"/>
<ellipse cx="960" cy="293.5" rx="3" ry="1.5" fill="#c44848"/>
<path d="M966,299 C969,304 965,310 969,318 M955,312 C956,315 958,318 959,320" stroke="#d0d0d0" stroke-width="0.5" fill="none"/>
<path d="M881,308 L913,308 Q915.5,308 915.5,310.5 L915.5,319 L881,319Z" fill="#262729" opacity="0.92"/>
<rect x="883.4" y="310.2" width="3" height="4.2" rx="1.5" fill="#3ad060"/>
<path d="M882.6,313.2 q2.3,3.2 4.6,0 M884.9,316.4 v1.2 M883.4,317.6 h3" stroke="#3ad060" stroke-width="0.6" fill="none"/>
<g stroke="#e8e8e8" stroke-width="0.8" fill="none" opacity="0.9">
<path d="M891,311 l1,1 M890.5,313.5 l1,0.6 M891,317 l1.2,-2 M893,311.5 h3.5 M894,313 h3 M895,313 v4 l-1,0.5 M893.5,315.5 h3.5"/>
<path d="M899,311 v6 M899,311 h3 M899,314 h3 M899,317 h3 M903,311 l1,2 l-1,4 M904.5,311 h2.5 v2 h-2.5 M904,314 l3,3 M907,314 l-3,3"/>
<path d="M906.5,311 M908.5,311 v6 M910,311.5 h2.5 v5.5 h-2.5 v-5.5 M910,314 h2.5"/>
</g>
</svg>
</div>

</div>
</body></html>
